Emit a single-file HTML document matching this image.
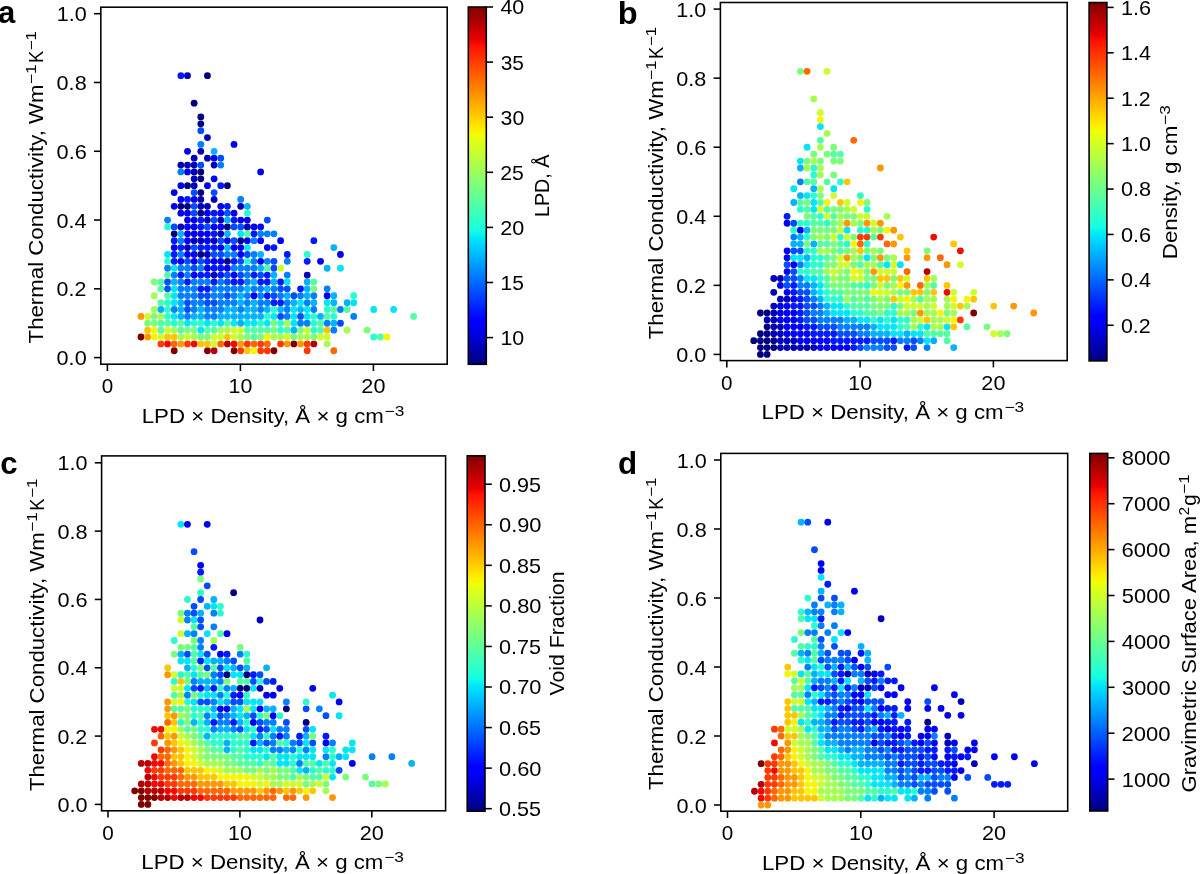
<!DOCTYPE html><html><head><meta charset="utf-8"><title>Thermal conductivity scatter plots</title><style>html,body{margin:0;padding:0;background:#fff;overflow:hidden;}svg{display:block;will-change:transform;}</style></head><body><svg width="1200" height="874" viewBox="0 0 1200 874">
<defs><linearGradient id="jet" x1="0" y1="1" x2="0" y2="0"><stop offset="0" stop-color="#000080"/><stop offset="0.11" stop-color="#0000ff"/><stop offset="0.125" stop-color="#0000ff"/><stop offset="0.34" stop-color="#00dbff"/><stop offset="0.35" stop-color="#00e5f7"/><stop offset="0.375" stop-color="#15ffe2"/><stop offset="0.64" stop-color="#efff08"/><stop offset="0.65" stop-color="#f7f600"/><stop offset="0.66" stop-color="#ffec00"/><stop offset="0.89" stop-color="#ff1300"/><stop offset="0.91" stop-color="#e80000"/><stop offset="1" stop-color="#800000"/></linearGradient></defs>
<rect width="1200" height="874" fill="#fff"/>
<g><circle cx="174.20" cy="350.77" r="3.4" fill="#800000"/><circle cx="207.45" cy="350.77" r="3.4" fill="#800000"/><circle cx="214.10" cy="350.77" r="3.4" fill="#b90000"/><circle cx="234.05" cy="350.77" r="3.4" fill="#800000"/><circle cx="240.70" cy="350.77" r="3.4" fill="#ff3900"/><circle cx="247.35" cy="350.77" r="3.4" fill="#ffc600"/><circle cx="254.00" cy="350.77" r="3.4" fill="#f7f600"/><circle cx="260.65" cy="350.77" r="3.4" fill="#ff3900"/><circle cx="267.30" cy="350.77" r="3.4" fill="#ff3900"/><circle cx="273.95" cy="350.77" r="3.4" fill="#800000"/><circle cx="307.20" cy="350.77" r="3.4" fill="#ff3900"/><circle cx="333.80" cy="350.77" r="3.4" fill="#ff6800"/><circle cx="160.90" cy="343.89" r="3.4" fill="#ff3900"/><circle cx="167.55" cy="343.89" r="3.4" fill="#f30900"/><circle cx="174.20" cy="343.89" r="3.4" fill="#ff6800"/><circle cx="180.85" cy="343.89" r="3.4" fill="#ff9700"/><circle cx="187.50" cy="343.89" r="3.4" fill="#ff3900"/><circle cx="194.15" cy="343.89" r="3.4" fill="#f30900"/><circle cx="200.80" cy="343.89" r="3.4" fill="#ffc600"/><circle cx="207.45" cy="343.89" r="3.4" fill="#ffc600"/><circle cx="214.10" cy="343.89" r="3.4" fill="#ceff29"/><circle cx="220.75" cy="343.89" r="3.4" fill="#ff6800"/><circle cx="227.40" cy="343.89" r="3.4" fill="#b90000"/><circle cx="234.05" cy="343.89" r="3.4" fill="#f30900"/><circle cx="240.70" cy="343.89" r="3.4" fill="#ff9700"/><circle cx="247.35" cy="343.89" r="3.4" fill="#ff3900"/><circle cx="254.00" cy="343.89" r="3.4" fill="#ff6800"/><circle cx="260.65" cy="343.89" r="3.4" fill="#ff3900"/><circle cx="267.30" cy="343.89" r="3.4" fill="#ff6800"/><circle cx="280.60" cy="343.89" r="3.4" fill="#ff3900"/><circle cx="287.25" cy="343.89" r="3.4" fill="#ff9700"/><circle cx="293.90" cy="343.89" r="3.4" fill="#800000"/><circle cx="300.55" cy="343.89" r="3.4" fill="#ff9700"/><circle cx="307.20" cy="343.89" r="3.4" fill="#ff3900"/><circle cx="313.85" cy="343.89" r="3.4" fill="#b90000"/><circle cx="327.15" cy="343.89" r="3.4" fill="#a5ff52"/><circle cx="140.95" cy="337.02" r="3.4" fill="#800000"/><circle cx="147.60" cy="337.02" r="3.4" fill="#ff9700"/><circle cx="154.25" cy="337.02" r="3.4" fill="#f7f600"/><circle cx="160.90" cy="337.02" r="3.4" fill="#ceff29"/><circle cx="167.55" cy="337.02" r="3.4" fill="#ffc600"/><circle cx="174.20" cy="337.02" r="3.4" fill="#ffc600"/><circle cx="180.85" cy="337.02" r="3.4" fill="#a5ff52"/><circle cx="187.50" cy="337.02" r="3.4" fill="#ceff29"/><circle cx="194.15" cy="337.02" r="3.4" fill="#a5ff52"/><circle cx="200.80" cy="337.02" r="3.4" fill="#7bff7b"/><circle cx="207.45" cy="337.02" r="3.4" fill="#7bff7b"/><circle cx="214.10" cy="337.02" r="3.4" fill="#ceff29"/><circle cx="220.75" cy="337.02" r="3.4" fill="#ceff29"/><circle cx="227.40" cy="337.02" r="3.4" fill="#ffc600"/><circle cx="234.05" cy="337.02" r="3.4" fill="#ceff29"/><circle cx="240.70" cy="337.02" r="3.4" fill="#a5ff52"/><circle cx="247.35" cy="337.02" r="3.4" fill="#7bff7b"/><circle cx="254.00" cy="337.02" r="3.4" fill="#52ffa5"/><circle cx="260.65" cy="337.02" r="3.4" fill="#7bff7b"/><circle cx="267.30" cy="337.02" r="3.4" fill="#f7f600"/><circle cx="273.95" cy="337.02" r="3.4" fill="#a5ff52"/><circle cx="280.60" cy="337.02" r="3.4" fill="#a5ff52"/><circle cx="287.25" cy="337.02" r="3.4" fill="#ceff29"/><circle cx="293.90" cy="337.02" r="3.4" fill="#7bff7b"/><circle cx="300.55" cy="337.02" r="3.4" fill="#a5ff52"/><circle cx="307.20" cy="337.02" r="3.4" fill="#a5ff52"/><circle cx="313.85" cy="337.02" r="3.4" fill="#7bff7b"/><circle cx="320.50" cy="337.02" r="3.4" fill="#ceff29"/><circle cx="327.15" cy="337.02" r="3.4" fill="#ceff29"/><circle cx="373.70" cy="337.02" r="3.4" fill="#29ffce"/><circle cx="380.35" cy="337.02" r="3.4" fill="#52ffa5"/><circle cx="387.00" cy="337.02" r="3.4" fill="#f7f600"/><circle cx="147.60" cy="330.14" r="3.4" fill="#ffc600"/><circle cx="154.25" cy="330.14" r="3.4" fill="#f7f600"/><circle cx="160.90" cy="330.14" r="3.4" fill="#52ffa5"/><circle cx="167.55" cy="330.14" r="3.4" fill="#ceff29"/><circle cx="174.20" cy="330.14" r="3.4" fill="#a5ff52"/><circle cx="180.85" cy="330.14" r="3.4" fill="#52ffa5"/><circle cx="187.50" cy="330.14" r="3.4" fill="#7bff7b"/><circle cx="194.15" cy="330.14" r="3.4" fill="#7bff7b"/><circle cx="200.80" cy="330.14" r="3.4" fill="#00e6f7"/><circle cx="207.45" cy="330.14" r="3.4" fill="#52ffa5"/><circle cx="214.10" cy="330.14" r="3.4" fill="#52ffa5"/><circle cx="220.75" cy="330.14" r="3.4" fill="#a5ff52"/><circle cx="227.40" cy="330.14" r="3.4" fill="#a5ff52"/><circle cx="234.05" cy="330.14" r="3.4" fill="#ceff29"/><circle cx="240.70" cy="330.14" r="3.4" fill="#ceff29"/><circle cx="247.35" cy="330.14" r="3.4" fill="#52ffa5"/><circle cx="254.00" cy="330.14" r="3.4" fill="#52ffa5"/><circle cx="260.65" cy="330.14" r="3.4" fill="#52ffa5"/><circle cx="267.30" cy="330.14" r="3.4" fill="#52ffa5"/><circle cx="273.95" cy="330.14" r="3.4" fill="#7bff7b"/><circle cx="280.60" cy="330.14" r="3.4" fill="#29ffce"/><circle cx="287.25" cy="330.14" r="3.4" fill="#52ffa5"/><circle cx="293.90" cy="330.14" r="3.4" fill="#00b3ff"/><circle cx="300.55" cy="330.14" r="3.4" fill="#7bff7b"/><circle cx="307.20" cy="330.14" r="3.4" fill="#ceff29"/><circle cx="313.85" cy="330.14" r="3.4" fill="#29ffce"/><circle cx="320.50" cy="330.14" r="3.4" fill="#52ffa5"/><circle cx="327.15" cy="330.14" r="3.4" fill="#ffc600"/><circle cx="333.80" cy="330.14" r="3.4" fill="#0080ff"/><circle cx="347.10" cy="330.14" r="3.4" fill="#a5ff52"/><circle cx="367.05" cy="330.14" r="3.4" fill="#7bff7b"/><circle cx="147.60" cy="323.26" r="3.4" fill="#7bff7b"/><circle cx="154.25" cy="323.26" r="3.4" fill="#7bff7b"/><circle cx="160.90" cy="323.26" r="3.4" fill="#52ffa5"/><circle cx="167.55" cy="323.26" r="3.4" fill="#52ffa5"/><circle cx="174.20" cy="323.26" r="3.4" fill="#29ffce"/><circle cx="180.85" cy="323.26" r="3.4" fill="#52ffa5"/><circle cx="187.50" cy="323.26" r="3.4" fill="#00e6f7"/><circle cx="194.15" cy="323.26" r="3.4" fill="#29ffce"/><circle cx="200.80" cy="323.26" r="3.4" fill="#29ffce"/><circle cx="207.45" cy="323.26" r="3.4" fill="#00e6f7"/><circle cx="214.10" cy="323.26" r="3.4" fill="#29ffce"/><circle cx="220.75" cy="323.26" r="3.4" fill="#00e6f7"/><circle cx="227.40" cy="323.26" r="3.4" fill="#52ffa5"/><circle cx="234.05" cy="323.26" r="3.4" fill="#00e6f7"/><circle cx="240.70" cy="323.26" r="3.4" fill="#00b3ff"/><circle cx="247.35" cy="323.26" r="3.4" fill="#00e6f7"/><circle cx="254.00" cy="323.26" r="3.4" fill="#00e6f7"/><circle cx="260.65" cy="323.26" r="3.4" fill="#29ffce"/><circle cx="267.30" cy="323.26" r="3.4" fill="#00e6f7"/><circle cx="273.95" cy="323.26" r="3.4" fill="#7bff7b"/><circle cx="280.60" cy="323.26" r="3.4" fill="#29ffce"/><circle cx="287.25" cy="323.26" r="3.4" fill="#a5ff52"/><circle cx="293.90" cy="323.26" r="3.4" fill="#00e6f7"/><circle cx="300.55" cy="323.26" r="3.4" fill="#0080ff"/><circle cx="307.20" cy="323.26" r="3.4" fill="#0080ff"/><circle cx="313.85" cy="323.26" r="3.4" fill="#29ffce"/><circle cx="320.50" cy="323.26" r="3.4" fill="#52ffa5"/><circle cx="327.15" cy="323.26" r="3.4" fill="#0080ff"/><circle cx="333.80" cy="323.26" r="3.4" fill="#00b3ff"/><circle cx="340.45" cy="323.26" r="3.4" fill="#004dff"/><circle cx="140.95" cy="316.38" r="3.4" fill="#ff9700"/><circle cx="147.60" cy="316.38" r="3.4" fill="#ceff29"/><circle cx="154.25" cy="316.38" r="3.4" fill="#7bff7b"/><circle cx="160.90" cy="316.38" r="3.4" fill="#a5ff52"/><circle cx="167.55" cy="316.38" r="3.4" fill="#29ffce"/><circle cx="174.20" cy="316.38" r="3.4" fill="#00e6f7"/><circle cx="180.85" cy="316.38" r="3.4" fill="#00b3ff"/><circle cx="187.50" cy="316.38" r="3.4" fill="#0080ff"/><circle cx="194.15" cy="316.38" r="3.4" fill="#00b3ff"/><circle cx="200.80" cy="316.38" r="3.4" fill="#00b3ff"/><circle cx="207.45" cy="316.38" r="3.4" fill="#0080ff"/><circle cx="214.10" cy="316.38" r="3.4" fill="#0080ff"/><circle cx="220.75" cy="316.38" r="3.4" fill="#00b3ff"/><circle cx="227.40" cy="316.38" r="3.4" fill="#00b3ff"/><circle cx="234.05" cy="316.38" r="3.4" fill="#00b3ff"/><circle cx="240.70" cy="316.38" r="3.4" fill="#00b3ff"/><circle cx="247.35" cy="316.38" r="3.4" fill="#00b3ff"/><circle cx="254.00" cy="316.38" r="3.4" fill="#00b3ff"/><circle cx="260.65" cy="316.38" r="3.4" fill="#00b3ff"/><circle cx="267.30" cy="316.38" r="3.4" fill="#29ffce"/><circle cx="273.95" cy="316.38" r="3.4" fill="#00e6f7"/><circle cx="280.60" cy="316.38" r="3.4" fill="#004dff"/><circle cx="287.25" cy="316.38" r="3.4" fill="#0080ff"/><circle cx="293.90" cy="316.38" r="3.4" fill="#00e6f7"/><circle cx="300.55" cy="316.38" r="3.4" fill="#004dff"/><circle cx="307.20" cy="316.38" r="3.4" fill="#00e6f7"/><circle cx="313.85" cy="316.38" r="3.4" fill="#29ffce"/><circle cx="320.50" cy="316.38" r="3.4" fill="#00b3ff"/><circle cx="327.15" cy="316.38" r="3.4" fill="#52ffa5"/><circle cx="333.80" cy="316.38" r="3.4" fill="#29ffce"/><circle cx="353.75" cy="316.38" r="3.4" fill="#0080ff"/><circle cx="413.60" cy="316.38" r="3.4" fill="#52ffa5"/><circle cx="154.25" cy="309.50" r="3.4" fill="#a5ff52"/><circle cx="160.90" cy="309.50" r="3.4" fill="#00b3ff"/><circle cx="167.55" cy="309.50" r="3.4" fill="#29ffce"/><circle cx="174.20" cy="309.50" r="3.4" fill="#0080ff"/><circle cx="180.85" cy="309.50" r="3.4" fill="#00b3ff"/><circle cx="187.50" cy="309.50" r="3.4" fill="#004dff"/><circle cx="194.15" cy="309.50" r="3.4" fill="#0080ff"/><circle cx="200.80" cy="309.50" r="3.4" fill="#00b3ff"/><circle cx="207.45" cy="309.50" r="3.4" fill="#0080ff"/><circle cx="214.10" cy="309.50" r="3.4" fill="#0080ff"/><circle cx="220.75" cy="309.50" r="3.4" fill="#0080ff"/><circle cx="227.40" cy="309.50" r="3.4" fill="#00b3ff"/><circle cx="234.05" cy="309.50" r="3.4" fill="#00b3ff"/><circle cx="240.70" cy="309.50" r="3.4" fill="#0080ff"/><circle cx="247.35" cy="309.50" r="3.4" fill="#00b3ff"/><circle cx="254.00" cy="309.50" r="3.4" fill="#00b3ff"/><circle cx="260.65" cy="309.50" r="3.4" fill="#0080ff"/><circle cx="267.30" cy="309.50" r="3.4" fill="#00b3ff"/><circle cx="273.95" cy="309.50" r="3.4" fill="#29ffce"/><circle cx="280.60" cy="309.50" r="3.4" fill="#00b3ff"/><circle cx="287.25" cy="309.50" r="3.4" fill="#0080ff"/><circle cx="293.90" cy="309.50" r="3.4" fill="#00e6f7"/><circle cx="300.55" cy="309.50" r="3.4" fill="#00b3ff"/><circle cx="307.20" cy="309.50" r="3.4" fill="#00e6f7"/><circle cx="313.85" cy="309.50" r="3.4" fill="#0080ff"/><circle cx="327.15" cy="309.50" r="3.4" fill="#29ffce"/><circle cx="333.80" cy="309.50" r="3.4" fill="#52ffa5"/><circle cx="340.45" cy="309.50" r="3.4" fill="#0080ff"/><circle cx="347.10" cy="309.50" r="3.4" fill="#52ffa5"/><circle cx="373.70" cy="309.50" r="3.4" fill="#00e6f7"/><circle cx="393.65" cy="309.50" r="3.4" fill="#00e6f7"/><circle cx="160.90" cy="302.63" r="3.4" fill="#52ffa5"/><circle cx="167.55" cy="302.63" r="3.4" fill="#29ffce"/><circle cx="174.20" cy="302.63" r="3.4" fill="#00e6f7"/><circle cx="180.85" cy="302.63" r="3.4" fill="#00b3ff"/><circle cx="187.50" cy="302.63" r="3.4" fill="#004dff"/><circle cx="194.15" cy="302.63" r="3.4" fill="#0080ff"/><circle cx="200.80" cy="302.63" r="3.4" fill="#0080ff"/><circle cx="207.45" cy="302.63" r="3.4" fill="#004dff"/><circle cx="214.10" cy="302.63" r="3.4" fill="#004dff"/><circle cx="220.75" cy="302.63" r="3.4" fill="#0080ff"/><circle cx="227.40" cy="302.63" r="3.4" fill="#0080ff"/><circle cx="234.05" cy="302.63" r="3.4" fill="#0080ff"/><circle cx="240.70" cy="302.63" r="3.4" fill="#00b3ff"/><circle cx="247.35" cy="302.63" r="3.4" fill="#0080ff"/><circle cx="254.00" cy="302.63" r="3.4" fill="#00b3ff"/><circle cx="260.65" cy="302.63" r="3.4" fill="#0080ff"/><circle cx="267.30" cy="302.63" r="3.4" fill="#0080ff"/><circle cx="273.95" cy="302.63" r="3.4" fill="#001aff"/><circle cx="280.60" cy="302.63" r="3.4" fill="#001aff"/><circle cx="287.25" cy="302.63" r="3.4" fill="#0080ff"/><circle cx="293.90" cy="302.63" r="3.4" fill="#00b3ff"/><circle cx="300.55" cy="302.63" r="3.4" fill="#00e6f7"/><circle cx="307.20" cy="302.63" r="3.4" fill="#0080ff"/><circle cx="313.85" cy="302.63" r="3.4" fill="#00b3ff"/><circle cx="327.15" cy="302.63" r="3.4" fill="#00e6f7"/><circle cx="333.80" cy="302.63" r="3.4" fill="#00b3ff"/><circle cx="347.10" cy="302.63" r="3.4" fill="#00b3ff"/><circle cx="353.75" cy="302.63" r="3.4" fill="#00e6f7"/><circle cx="154.25" cy="295.75" r="3.4" fill="#a5ff52"/><circle cx="167.55" cy="295.75" r="3.4" fill="#52ffa5"/><circle cx="174.20" cy="295.75" r="3.4" fill="#00e6f7"/><circle cx="180.85" cy="295.75" r="3.4" fill="#0080ff"/><circle cx="187.50" cy="295.75" r="3.4" fill="#0080ff"/><circle cx="194.15" cy="295.75" r="3.4" fill="#0080ff"/><circle cx="200.80" cy="295.75" r="3.4" fill="#004dff"/><circle cx="207.45" cy="295.75" r="3.4" fill="#004dff"/><circle cx="214.10" cy="295.75" r="3.4" fill="#0080ff"/><circle cx="220.75" cy="295.75" r="3.4" fill="#0080ff"/><circle cx="227.40" cy="295.75" r="3.4" fill="#004dff"/><circle cx="234.05" cy="295.75" r="3.4" fill="#0080ff"/><circle cx="240.70" cy="295.75" r="3.4" fill="#00b3ff"/><circle cx="247.35" cy="295.75" r="3.4" fill="#0080ff"/><circle cx="254.00" cy="295.75" r="3.4" fill="#0000f3"/><circle cx="260.65" cy="295.75" r="3.4" fill="#0080ff"/><circle cx="267.30" cy="295.75" r="3.4" fill="#001aff"/><circle cx="273.95" cy="295.75" r="3.4" fill="#004dff"/><circle cx="280.60" cy="295.75" r="3.4" fill="#0080ff"/><circle cx="287.25" cy="295.75" r="3.4" fill="#00b3ff"/><circle cx="293.90" cy="295.75" r="3.4" fill="#004dff"/><circle cx="300.55" cy="295.75" r="3.4" fill="#0080ff"/><circle cx="307.20" cy="295.75" r="3.4" fill="#00b3ff"/><circle cx="313.85" cy="295.75" r="3.4" fill="#0080ff"/><circle cx="327.15" cy="295.75" r="3.4" fill="#0000f3"/><circle cx="333.80" cy="295.75" r="3.4" fill="#00b3ff"/><circle cx="353.75" cy="295.75" r="3.4" fill="#29ffce"/><circle cx="160.90" cy="288.87" r="3.4" fill="#52ffa5"/><circle cx="167.55" cy="288.87" r="3.4" fill="#004dff"/><circle cx="174.20" cy="288.87" r="3.4" fill="#00e6f7"/><circle cx="180.85" cy="288.87" r="3.4" fill="#0080ff"/><circle cx="187.50" cy="288.87" r="3.4" fill="#0080ff"/><circle cx="194.15" cy="288.87" r="3.4" fill="#0080ff"/><circle cx="200.80" cy="288.87" r="3.4" fill="#001aff"/><circle cx="207.45" cy="288.87" r="3.4" fill="#001aff"/><circle cx="214.10" cy="288.87" r="3.4" fill="#0080ff"/><circle cx="220.75" cy="288.87" r="3.4" fill="#0080ff"/><circle cx="227.40" cy="288.87" r="3.4" fill="#0080ff"/><circle cx="234.05" cy="288.87" r="3.4" fill="#0080ff"/><circle cx="240.70" cy="288.87" r="3.4" fill="#0080ff"/><circle cx="247.35" cy="288.87" r="3.4" fill="#00b3ff"/><circle cx="254.00" cy="288.87" r="3.4" fill="#0080ff"/><circle cx="260.65" cy="288.87" r="3.4" fill="#0080ff"/><circle cx="267.30" cy="288.87" r="3.4" fill="#00b3ff"/><circle cx="273.95" cy="288.87" r="3.4" fill="#0080ff"/><circle cx="280.60" cy="288.87" r="3.4" fill="#004dff"/><circle cx="287.25" cy="288.87" r="3.4" fill="#004dff"/><circle cx="300.55" cy="288.87" r="3.4" fill="#001aff"/><circle cx="307.20" cy="288.87" r="3.4" fill="#00b3ff"/><circle cx="313.85" cy="288.87" r="3.4" fill="#7bff7b"/><circle cx="327.15" cy="288.87" r="3.4" fill="#0080ff"/><circle cx="154.25" cy="281.99" r="3.4" fill="#7bff7b"/><circle cx="160.90" cy="281.99" r="3.4" fill="#52ffa5"/><circle cx="167.55" cy="281.99" r="3.4" fill="#004dff"/><circle cx="174.20" cy="281.99" r="3.4" fill="#00b3ff"/><circle cx="180.85" cy="281.99" r="3.4" fill="#0080ff"/><circle cx="187.50" cy="281.99" r="3.4" fill="#001aff"/><circle cx="194.15" cy="281.99" r="3.4" fill="#0080ff"/><circle cx="200.80" cy="281.99" r="3.4" fill="#0080ff"/><circle cx="207.45" cy="281.99" r="3.4" fill="#0080ff"/><circle cx="214.10" cy="281.99" r="3.4" fill="#001aff"/><circle cx="220.75" cy="281.99" r="3.4" fill="#0080ff"/><circle cx="227.40" cy="281.99" r="3.4" fill="#004dff"/><circle cx="234.05" cy="281.99" r="3.4" fill="#001aff"/><circle cx="240.70" cy="281.99" r="3.4" fill="#001aff"/><circle cx="247.35" cy="281.99" r="3.4" fill="#0080ff"/><circle cx="254.00" cy="281.99" r="3.4" fill="#00b3ff"/><circle cx="260.65" cy="281.99" r="3.4" fill="#001aff"/><circle cx="267.30" cy="281.99" r="3.4" fill="#001aff"/><circle cx="273.95" cy="281.99" r="3.4" fill="#00b3ff"/><circle cx="280.60" cy="281.99" r="3.4" fill="#001aff"/><circle cx="287.25" cy="281.99" r="3.4" fill="#00e6f7"/><circle cx="307.20" cy="281.99" r="3.4" fill="#00b3ff"/><circle cx="313.85" cy="281.99" r="3.4" fill="#52ffa5"/><circle cx="167.55" cy="275.11" r="3.4" fill="#52ffa5"/><circle cx="174.20" cy="275.11" r="3.4" fill="#0080ff"/><circle cx="180.85" cy="275.11" r="3.4" fill="#001aff"/><circle cx="187.50" cy="275.11" r="3.4" fill="#0080ff"/><circle cx="194.15" cy="275.11" r="3.4" fill="#0000f3"/><circle cx="200.80" cy="275.11" r="3.4" fill="#001aff"/><circle cx="207.45" cy="275.11" r="3.4" fill="#001aff"/><circle cx="214.10" cy="275.11" r="3.4" fill="#0000b9"/><circle cx="220.75" cy="275.11" r="3.4" fill="#001aff"/><circle cx="227.40" cy="275.11" r="3.4" fill="#004dff"/><circle cx="234.05" cy="275.11" r="3.4" fill="#0000f3"/><circle cx="240.70" cy="275.11" r="3.4" fill="#004dff"/><circle cx="247.35" cy="275.11" r="3.4" fill="#0080ff"/><circle cx="254.00" cy="275.11" r="3.4" fill="#001aff"/><circle cx="260.65" cy="275.11" r="3.4" fill="#004dff"/><circle cx="267.30" cy="275.11" r="3.4" fill="#001aff"/><circle cx="273.95" cy="275.11" r="3.4" fill="#00b3ff"/><circle cx="287.25" cy="275.11" r="3.4" fill="#0080ff"/><circle cx="307.20" cy="275.11" r="3.4" fill="#0000b9"/><circle cx="167.55" cy="268.24" r="3.4" fill="#0080ff"/><circle cx="174.20" cy="268.24" r="3.4" fill="#00e6f7"/><circle cx="180.85" cy="268.24" r="3.4" fill="#0080ff"/><circle cx="187.50" cy="268.24" r="3.4" fill="#0080ff"/><circle cx="194.15" cy="268.24" r="3.4" fill="#004dff"/><circle cx="200.80" cy="268.24" r="3.4" fill="#0080ff"/><circle cx="207.45" cy="268.24" r="3.4" fill="#0000f3"/><circle cx="214.10" cy="268.24" r="3.4" fill="#001aff"/><circle cx="220.75" cy="268.24" r="3.4" fill="#001aff"/><circle cx="227.40" cy="268.24" r="3.4" fill="#0000f3"/><circle cx="234.05" cy="268.24" r="3.4" fill="#0080ff"/><circle cx="240.70" cy="268.24" r="3.4" fill="#0080ff"/><circle cx="247.35" cy="268.24" r="3.4" fill="#0080ff"/><circle cx="254.00" cy="268.24" r="3.4" fill="#0080ff"/><circle cx="260.65" cy="268.24" r="3.4" fill="#00b3ff"/><circle cx="267.30" cy="268.24" r="3.4" fill="#52ffa5"/><circle cx="273.95" cy="268.24" r="3.4" fill="#004dff"/><circle cx="280.60" cy="268.24" r="3.4" fill="#ceff29"/><circle cx="327.15" cy="268.24" r="3.4" fill="#00b3ff"/><circle cx="340.45" cy="268.24" r="3.4" fill="#00e6f7"/><circle cx="167.55" cy="261.36" r="3.4" fill="#29ffce"/><circle cx="174.20" cy="261.36" r="3.4" fill="#001aff"/><circle cx="180.85" cy="261.36" r="3.4" fill="#0000f3"/><circle cx="187.50" cy="261.36" r="3.4" fill="#004dff"/><circle cx="194.15" cy="261.36" r="3.4" fill="#0000f3"/><circle cx="200.80" cy="261.36" r="3.4" fill="#004dff"/><circle cx="207.45" cy="261.36" r="3.4" fill="#001aff"/><circle cx="214.10" cy="261.36" r="3.4" fill="#0000f3"/><circle cx="220.75" cy="261.36" r="3.4" fill="#0000f3"/><circle cx="227.40" cy="261.36" r="3.4" fill="#000080"/><circle cx="234.05" cy="261.36" r="3.4" fill="#001aff"/><circle cx="240.70" cy="261.36" r="3.4" fill="#004dff"/><circle cx="247.35" cy="261.36" r="3.4" fill="#29ffce"/><circle cx="254.00" cy="261.36" r="3.4" fill="#0080ff"/><circle cx="260.65" cy="261.36" r="3.4" fill="#0000f3"/><circle cx="267.30" cy="261.36" r="3.4" fill="#0080ff"/><circle cx="273.95" cy="261.36" r="3.4" fill="#004dff"/><circle cx="287.25" cy="261.36" r="3.4" fill="#0080ff"/><circle cx="307.20" cy="261.36" r="3.4" fill="#001aff"/><circle cx="320.50" cy="261.36" r="3.4" fill="#0000f3"/><circle cx="167.55" cy="254.48" r="3.4" fill="#00e6f7"/><circle cx="174.20" cy="254.48" r="3.4" fill="#001aff"/><circle cx="180.85" cy="254.48" r="3.4" fill="#0080ff"/><circle cx="187.50" cy="254.48" r="3.4" fill="#0000f3"/><circle cx="194.15" cy="254.48" r="3.4" fill="#0000f3"/><circle cx="200.80" cy="254.48" r="3.4" fill="#000080"/><circle cx="207.45" cy="254.48" r="3.4" fill="#0000b9"/><circle cx="214.10" cy="254.48" r="3.4" fill="#004dff"/><circle cx="220.75" cy="254.48" r="3.4" fill="#004dff"/><circle cx="227.40" cy="254.48" r="3.4" fill="#0080ff"/><circle cx="234.05" cy="254.48" r="3.4" fill="#0080ff"/><circle cx="240.70" cy="254.48" r="3.4" fill="#0000f3"/><circle cx="247.35" cy="254.48" r="3.4" fill="#004dff"/><circle cx="254.00" cy="254.48" r="3.4" fill="#0080ff"/><circle cx="260.65" cy="254.48" r="3.4" fill="#00b3ff"/><circle cx="287.25" cy="254.48" r="3.4" fill="#001aff"/><circle cx="307.20" cy="254.48" r="3.4" fill="#29ffce"/><circle cx="340.45" cy="254.48" r="3.4" fill="#0000f3"/><circle cx="174.20" cy="247.60" r="3.4" fill="#0000f3"/><circle cx="180.85" cy="247.60" r="3.4" fill="#001aff"/><circle cx="187.50" cy="247.60" r="3.4" fill="#0000b9"/><circle cx="194.15" cy="247.60" r="3.4" fill="#004dff"/><circle cx="200.80" cy="247.60" r="3.4" fill="#001aff"/><circle cx="207.45" cy="247.60" r="3.4" fill="#001aff"/><circle cx="214.10" cy="247.60" r="3.4" fill="#001aff"/><circle cx="220.75" cy="247.60" r="3.4" fill="#0000f3"/><circle cx="227.40" cy="247.60" r="3.4" fill="#00b3ff"/><circle cx="234.05" cy="247.60" r="3.4" fill="#0000f3"/><circle cx="240.70" cy="247.60" r="3.4" fill="#0000f3"/><circle cx="247.35" cy="247.60" r="3.4" fill="#00e6f7"/><circle cx="267.30" cy="247.60" r="3.4" fill="#0000f3"/><circle cx="273.95" cy="247.60" r="3.4" fill="#001aff"/><circle cx="333.80" cy="247.60" r="3.4" fill="#00b3ff"/><circle cx="174.20" cy="240.72" r="3.4" fill="#001aff"/><circle cx="180.85" cy="240.72" r="3.4" fill="#0080ff"/><circle cx="187.50" cy="240.72" r="3.4" fill="#0000f3"/><circle cx="194.15" cy="240.72" r="3.4" fill="#0000b9"/><circle cx="200.80" cy="240.72" r="3.4" fill="#0000b9"/><circle cx="207.45" cy="240.72" r="3.4" fill="#0000f3"/><circle cx="214.10" cy="240.72" r="3.4" fill="#0000b9"/><circle cx="220.75" cy="240.72" r="3.4" fill="#004dff"/><circle cx="227.40" cy="240.72" r="3.4" fill="#0000f3"/><circle cx="234.05" cy="240.72" r="3.4" fill="#004dff"/><circle cx="240.70" cy="240.72" r="3.4" fill="#000080"/><circle cx="247.35" cy="240.72" r="3.4" fill="#0000f3"/><circle cx="254.00" cy="240.72" r="3.4" fill="#0080ff"/><circle cx="260.65" cy="240.72" r="3.4" fill="#0000f3"/><circle cx="280.60" cy="240.72" r="3.4" fill="#0000f3"/><circle cx="313.85" cy="240.72" r="3.4" fill="#001aff"/><circle cx="174.20" cy="233.85" r="3.4" fill="#000080"/><circle cx="180.85" cy="233.85" r="3.4" fill="#00b3ff"/><circle cx="187.50" cy="233.85" r="3.4" fill="#0000f3"/><circle cx="194.15" cy="233.85" r="3.4" fill="#0000f3"/><circle cx="200.80" cy="233.85" r="3.4" fill="#0000f3"/><circle cx="207.45" cy="233.85" r="3.4" fill="#0000f3"/><circle cx="214.10" cy="233.85" r="3.4" fill="#001aff"/><circle cx="220.75" cy="233.85" r="3.4" fill="#0000b9"/><circle cx="227.40" cy="233.85" r="3.4" fill="#00b3ff"/><circle cx="240.70" cy="233.85" r="3.4" fill="#00e6f7"/><circle cx="247.35" cy="233.85" r="3.4" fill="#52ffa5"/><circle cx="254.00" cy="233.85" r="3.4" fill="#001aff"/><circle cx="260.65" cy="233.85" r="3.4" fill="#0080ff"/><circle cx="267.30" cy="233.85" r="3.4" fill="#0080ff"/><circle cx="273.95" cy="233.85" r="3.4" fill="#0080ff"/><circle cx="167.55" cy="226.97" r="3.4" fill="#29ffce"/><circle cx="174.20" cy="226.97" r="3.4" fill="#004dff"/><circle cx="180.85" cy="226.97" r="3.4" fill="#0000b9"/><circle cx="187.50" cy="226.97" r="3.4" fill="#0000f3"/><circle cx="194.15" cy="226.97" r="3.4" fill="#0000f3"/><circle cx="200.80" cy="226.97" r="3.4" fill="#001aff"/><circle cx="207.45" cy="226.97" r="3.4" fill="#004dff"/><circle cx="214.10" cy="226.97" r="3.4" fill="#0000f3"/><circle cx="220.75" cy="226.97" r="3.4" fill="#0000f3"/><circle cx="227.40" cy="226.97" r="3.4" fill="#000080"/><circle cx="234.05" cy="226.97" r="3.4" fill="#004dff"/><circle cx="240.70" cy="226.97" r="3.4" fill="#004dff"/><circle cx="247.35" cy="226.97" r="3.4" fill="#0000b9"/><circle cx="254.00" cy="226.97" r="3.4" fill="#0000f3"/><circle cx="260.65" cy="226.97" r="3.4" fill="#0000f3"/><circle cx="167.55" cy="220.09" r="3.4" fill="#0080ff"/><circle cx="187.50" cy="220.09" r="3.4" fill="#0000f3"/><circle cx="194.15" cy="220.09" r="3.4" fill="#0000f3"/><circle cx="200.80" cy="220.09" r="3.4" fill="#001aff"/><circle cx="207.45" cy="220.09" r="3.4" fill="#0000b9"/><circle cx="214.10" cy="220.09" r="3.4" fill="#004dff"/><circle cx="220.75" cy="220.09" r="3.4" fill="#0000b9"/><circle cx="227.40" cy="220.09" r="3.4" fill="#00b3ff"/><circle cx="234.05" cy="220.09" r="3.4" fill="#001aff"/><circle cx="240.70" cy="220.09" r="3.4" fill="#0000f3"/><circle cx="247.35" cy="220.09" r="3.4" fill="#0000f3"/><circle cx="267.30" cy="220.09" r="3.4" fill="#004dff"/><circle cx="180.85" cy="213.21" r="3.4" fill="#0000f3"/><circle cx="187.50" cy="213.21" r="3.4" fill="#0000f3"/><circle cx="194.15" cy="213.21" r="3.4" fill="#004dff"/><circle cx="200.80" cy="213.21" r="3.4" fill="#000080"/><circle cx="207.45" cy="213.21" r="3.4" fill="#0000f3"/><circle cx="214.10" cy="213.21" r="3.4" fill="#001aff"/><circle cx="220.75" cy="213.21" r="3.4" fill="#0000f3"/><circle cx="227.40" cy="213.21" r="3.4" fill="#004dff"/><circle cx="234.05" cy="213.21" r="3.4" fill="#0000f3"/><circle cx="247.35" cy="213.21" r="3.4" fill="#29ffce"/><circle cx="174.20" cy="206.33" r="3.4" fill="#0000f3"/><circle cx="180.85" cy="206.33" r="3.4" fill="#000080"/><circle cx="187.50" cy="206.33" r="3.4" fill="#000080"/><circle cx="194.15" cy="206.33" r="3.4" fill="#004dff"/><circle cx="200.80" cy="206.33" r="3.4" fill="#0000b9"/><circle cx="207.45" cy="206.33" r="3.4" fill="#0000b9"/><circle cx="220.75" cy="206.33" r="3.4" fill="#0000f3"/><circle cx="227.40" cy="206.33" r="3.4" fill="#001aff"/><circle cx="240.70" cy="206.33" r="3.4" fill="#0000b9"/><circle cx="247.35" cy="206.33" r="3.4" fill="#00b3ff"/><circle cx="180.85" cy="199.46" r="3.4" fill="#0000f3"/><circle cx="187.50" cy="199.46" r="3.4" fill="#001aff"/><circle cx="194.15" cy="199.46" r="3.4" fill="#0000f3"/><circle cx="200.80" cy="199.46" r="3.4" fill="#0000b9"/><circle cx="214.10" cy="199.46" r="3.4" fill="#0000b9"/><circle cx="240.70" cy="199.46" r="3.4" fill="#0080ff"/><circle cx="174.20" cy="192.58" r="3.4" fill="#0000f3"/><circle cx="194.15" cy="192.58" r="3.4" fill="#004dff"/><circle cx="200.80" cy="192.58" r="3.4" fill="#000080"/><circle cx="214.10" cy="192.58" r="3.4" fill="#004dff"/><circle cx="180.85" cy="185.70" r="3.4" fill="#0000f3"/><circle cx="187.50" cy="185.70" r="3.4" fill="#000080"/><circle cx="194.15" cy="185.70" r="3.4" fill="#0000b9"/><circle cx="207.45" cy="185.70" r="3.4" fill="#0000f3"/><circle cx="220.75" cy="185.70" r="3.4" fill="#001aff"/><circle cx="227.40" cy="185.70" r="3.4" fill="#000080"/><circle cx="194.15" cy="178.82" r="3.4" fill="#0000b9"/><circle cx="200.80" cy="178.82" r="3.4" fill="#000080"/><circle cx="214.10" cy="178.82" r="3.4" fill="#0000f3"/><circle cx="180.85" cy="171.94" r="3.4" fill="#0080ff"/><circle cx="187.50" cy="171.94" r="3.4" fill="#0000f3"/><circle cx="194.15" cy="171.94" r="3.4" fill="#0000b9"/><circle cx="200.80" cy="171.94" r="3.4" fill="#000080"/><circle cx="260.65" cy="171.94" r="3.4" fill="#0000f3"/><circle cx="180.85" cy="165.07" r="3.4" fill="#0000b9"/><circle cx="187.50" cy="165.07" r="3.4" fill="#0000b9"/><circle cx="194.15" cy="165.07" r="3.4" fill="#0000b9"/><circle cx="200.80" cy="165.07" r="3.4" fill="#004dff"/><circle cx="214.10" cy="165.07" r="3.4" fill="#0000b9"/><circle cx="220.75" cy="165.07" r="3.4" fill="#0080ff"/><circle cx="194.15" cy="158.19" r="3.4" fill="#0000b9"/><circle cx="207.45" cy="158.19" r="3.4" fill="#0000b9"/><circle cx="214.10" cy="158.19" r="3.4" fill="#0000f3"/><circle cx="220.75" cy="158.19" r="3.4" fill="#004dff"/><circle cx="187.50" cy="151.31" r="3.4" fill="#0000f3"/><circle cx="200.80" cy="151.31" r="3.4" fill="#0000b9"/><circle cx="214.10" cy="151.31" r="3.4" fill="#00b3ff"/><circle cx="200.80" cy="144.43" r="3.4" fill="#0080ff"/><circle cx="234.05" cy="144.43" r="3.4" fill="#0000f3"/><circle cx="207.45" cy="137.55" r="3.4" fill="#0000b9"/><circle cx="200.80" cy="130.68" r="3.4" fill="#004dff"/><circle cx="200.80" cy="123.80" r="3.4" fill="#000080"/><circle cx="200.80" cy="116.92" r="3.4" fill="#000080"/><circle cx="194.15" cy="103.16" r="3.4" fill="#000080"/><circle cx="180.85" cy="75.65" r="3.4" fill="#001aff"/><circle cx="187.50" cy="75.65" r="3.4" fill="#0000b9"/><circle cx="207.45" cy="75.65" r="3.4" fill="#000080"/></g>
<rect x="100.80" y="7.20" width="346.40" height="357.00" fill="none" stroke="#000" stroke-width="1.56"/>
<line x1="107.40" y1="364.20" x2="107.40" y2="371.00" stroke="#000" stroke-width="1.56"/>
<text x="-0.750" y="0" transform="translate(102.47 393.20) scale(1.0128 1)" font-family="Liberation Sans, sans-serif" font-size="20.4">0</text>
<line x1="240.40" y1="364.20" x2="240.40" y2="371.00" stroke="#000" stroke-width="1.56"/>
<text x="-1.500" y="0" transform="translate(230.16 393.20) scale(1.0491 1)" font-family="Liberation Sans, sans-serif" font-size="20.4">10</text>
<line x1="373.40" y1="364.20" x2="373.40" y2="371.00" stroke="#000" stroke-width="1.56"/>
<text x="-1.000" y="0" transform="translate(362.41 393.20) scale(1.0599 1)" font-family="Liberation Sans, sans-serif" font-size="20.4">20</text>
<line x1="94.00" y1="357.60" x2="100.80" y2="357.60" stroke="#000" stroke-width="1.56"/>
<text x="-0.750" y="0" transform="translate(57.38 365.10) scale(1.0607 1)" font-family="Liberation Sans, sans-serif" font-size="20.4">0.0</text>
<line x1="94.00" y1="288.82" x2="100.80" y2="288.82" stroke="#000" stroke-width="1.56"/>
<text x="-0.750" y="0" transform="translate(57.38 296.32) scale(1.0472 1)" font-family="Liberation Sans, sans-serif" font-size="20.4">0.2</text>
<line x1="94.00" y1="220.04" x2="100.80" y2="220.04" stroke="#000" stroke-width="1.56"/>
<text x="-0.750" y="0" transform="translate(57.38 227.54) scale(1.0602 1)" font-family="Liberation Sans, sans-serif" font-size="20.4">0.4</text>
<line x1="94.00" y1="151.26" x2="100.80" y2="151.26" stroke="#000" stroke-width="1.56"/>
<text x="-0.750" y="0" transform="translate(57.38 158.76) scale(1.0657 1)" font-family="Liberation Sans, sans-serif" font-size="20.4">0.6</text>
<line x1="94.00" y1="82.48" x2="100.80" y2="82.48" stroke="#000" stroke-width="1.56"/>
<text x="-0.750" y="0" transform="translate(57.38 89.98) scale(1.0607 1)" font-family="Liberation Sans, sans-serif" font-size="20.4">0.8</text>
<line x1="94.00" y1="13.70" x2="100.80" y2="13.70" stroke="#000" stroke-width="1.56"/>
<text x="-1.500" y="0" transform="translate(58.25 21.20) scale(1.0577 1)" font-family="Liberation Sans, sans-serif" font-size="20.4">1.0</text>
<text x="-1.625" y="0" transform="translate(143.50 422.50) scale(1.0919 1)" font-family="Liberation Sans, sans-serif" font-size="20.4">LPD × Density, Å × g cm</text>
<text x="-0.750" y="0" transform="translate(385.50 415.50) scale(1.2101 1)" font-family="Liberation Sans, sans-serif" font-size="14.3">−3</text>
<text x="-0.500" y="0" transform="translate(42.90 342.90) rotate(-90) scale(1.0901 1)" font-family="Liberation Sans, sans-serif" font-size="20.4">Thermal Conductivity, Wm</text>
<text x="-0.750" y="0" transform="translate(36.00 83.20) rotate(-90) scale(1.2034 1)" font-family="Liberation Sans, sans-serif" font-size="14.3">−1</text>
<text x="-1.625" y="0" transform="translate(42.90 61.60) rotate(-90) scale(0.9032 1)" font-family="Liberation Sans, sans-serif" font-size="20.4">K</text>
<text x="-0.750" y="0" transform="translate(36.00 49.30) rotate(-90) scale(1.1697 1)" font-family="Liberation Sans, sans-serif" font-size="14.3">−1</text>
<rect x="468.30" y="7.00" width="18.00" height="357.30" fill="url(#jet)" stroke="#000" stroke-width="1.56"/>
<line x1="486.30" y1="337.60" x2="493.10" y2="337.60" stroke="#000" stroke-width="1.56"/>
<text x="-1.500" y="0" transform="translate(502.03 345.00) scale(1.0491 1)" font-family="Liberation Sans, sans-serif" font-size="20.4">10</text>
<line x1="486.30" y1="282.50" x2="493.10" y2="282.50" stroke="#000" stroke-width="1.56"/>
<text x="-1.500" y="0" transform="translate(502.03 289.90) scale(1.0307 1)" font-family="Liberation Sans, sans-serif" font-size="20.4">15</text>
<line x1="486.30" y1="227.40" x2="493.10" y2="227.40" stroke="#000" stroke-width="1.56"/>
<text x="-1.000" y="0" transform="translate(501.28 234.80) scale(1.0599 1)" font-family="Liberation Sans, sans-serif" font-size="20.4">20</text>
<line x1="486.30" y1="172.30" x2="493.10" y2="172.30" stroke="#000" stroke-width="1.56"/>
<text x="-1.000" y="0" transform="translate(501.28 179.70) scale(1.0419 1)" font-family="Liberation Sans, sans-serif" font-size="20.4">25</text>
<line x1="486.30" y1="117.20" x2="493.10" y2="117.20" stroke="#000" stroke-width="1.56"/>
<text x="-0.750" y="0" transform="translate(501.40 124.60) scale(1.0414 1)" font-family="Liberation Sans, sans-serif" font-size="20.4">30</text>
<line x1="486.30" y1="62.10" x2="493.10" y2="62.10" stroke="#000" stroke-width="1.56"/>
<text x="-0.750" y="0" transform="translate(501.40 69.50) scale(1.0237 1)" font-family="Liberation Sans, sans-serif" font-size="20.4">35</text>
<line x1="486.30" y1="7.00" x2="493.10" y2="7.00" stroke="#000" stroke-width="1.56"/>
<text x="-0.500" y="0" transform="translate(500.90 14.40) scale(1.0526 1)" font-family="Liberation Sans, sans-serif" font-size="20.4">40</text>
<text x="-0.875" y="0" transform="translate(-1.20 23.30) scale(1.0015 1)" font-family="Liberation Sans, sans-serif" font-size="31" font-weight="bold">a</text>
<g><circle cx="760.42" cy="354.45" r="3.4" fill="#000080"/><circle cx="767.09" cy="354.45" r="3.4" fill="#000080"/><circle cx="760.42" cy="347.54" r="3.4" fill="#000080"/><circle cx="767.09" cy="347.54" r="3.4" fill="#000080"/><circle cx="773.75" cy="347.54" r="3.4" fill="#000080"/><circle cx="780.42" cy="347.54" r="3.4" fill="#0000b9"/><circle cx="787.08" cy="347.54" r="3.4" fill="#0000b9"/><circle cx="793.75" cy="347.54" r="3.4" fill="#0000b9"/><circle cx="800.41" cy="347.54" r="3.4" fill="#0000b9"/><circle cx="807.08" cy="347.54" r="3.4" fill="#0000b9"/><circle cx="813.74" cy="347.54" r="3.4" fill="#0000b9"/><circle cx="820.41" cy="347.54" r="3.4" fill="#0000f3"/><circle cx="827.07" cy="347.54" r="3.4" fill="#0000f3"/><circle cx="833.74" cy="347.54" r="3.4" fill="#0000f3"/><circle cx="840.40" cy="347.54" r="3.4" fill="#0000f3"/><circle cx="847.07" cy="347.54" r="3.4" fill="#0000f3"/><circle cx="853.73" cy="347.54" r="3.4" fill="#001aff"/><circle cx="860.40" cy="347.54" r="3.4" fill="#004dff"/><circle cx="867.06" cy="347.54" r="3.4" fill="#0080ff"/><circle cx="873.73" cy="347.54" r="3.4" fill="#0080ff"/><circle cx="880.39" cy="347.54" r="3.4" fill="#0080ff"/><circle cx="887.06" cy="347.54" r="3.4" fill="#004dff"/><circle cx="893.72" cy="347.54" r="3.4" fill="#004dff"/><circle cx="907.05" cy="347.54" r="3.4" fill="#001aff"/><circle cx="913.72" cy="347.54" r="3.4" fill="#004dff"/><circle cx="927.05" cy="347.54" r="3.4" fill="#0080ff"/><circle cx="953.71" cy="347.54" r="3.4" fill="#00b3ff"/><circle cx="753.76" cy="340.64" r="3.4" fill="#000080"/><circle cx="760.42" cy="340.64" r="3.4" fill="#000080"/><circle cx="767.09" cy="340.64" r="3.4" fill="#000080"/><circle cx="773.75" cy="340.64" r="3.4" fill="#000080"/><circle cx="780.42" cy="340.64" r="3.4" fill="#0000b9"/><circle cx="787.08" cy="340.64" r="3.4" fill="#0000b9"/><circle cx="793.75" cy="340.64" r="3.4" fill="#0000b9"/><circle cx="800.41" cy="340.64" r="3.4" fill="#0000f3"/><circle cx="807.08" cy="340.64" r="3.4" fill="#0000f3"/><circle cx="813.74" cy="340.64" r="3.4" fill="#0000f3"/><circle cx="820.41" cy="340.64" r="3.4" fill="#0000f3"/><circle cx="827.07" cy="340.64" r="3.4" fill="#0000f3"/><circle cx="833.74" cy="340.64" r="3.4" fill="#001aff"/><circle cx="840.40" cy="340.64" r="3.4" fill="#001aff"/><circle cx="847.07" cy="340.64" r="3.4" fill="#001aff"/><circle cx="853.73" cy="340.64" r="3.4" fill="#001aff"/><circle cx="860.40" cy="340.64" r="3.4" fill="#001aff"/><circle cx="867.06" cy="340.64" r="3.4" fill="#001aff"/><circle cx="873.73" cy="340.64" r="3.4" fill="#004dff"/><circle cx="880.39" cy="340.64" r="3.4" fill="#004dff"/><circle cx="887.06" cy="340.64" r="3.4" fill="#004dff"/><circle cx="893.72" cy="340.64" r="3.4" fill="#001aff"/><circle cx="900.39" cy="340.64" r="3.4" fill="#0080ff"/><circle cx="907.05" cy="340.64" r="3.4" fill="#0080ff"/><circle cx="913.72" cy="340.64" r="3.4" fill="#004dff"/><circle cx="920.38" cy="340.64" r="3.4" fill="#0080ff"/><circle cx="927.05" cy="340.64" r="3.4" fill="#00e6f7"/><circle cx="933.71" cy="340.64" r="3.4" fill="#00b3ff"/><circle cx="947.04" cy="340.64" r="3.4" fill="#52ffa5"/><circle cx="760.42" cy="333.73" r="3.4" fill="#000080"/><circle cx="767.09" cy="333.73" r="3.4" fill="#000080"/><circle cx="773.75" cy="333.73" r="3.4" fill="#0000b9"/><circle cx="780.42" cy="333.73" r="3.4" fill="#0000b9"/><circle cx="787.08" cy="333.73" r="3.4" fill="#0000f3"/><circle cx="793.75" cy="333.73" r="3.4" fill="#0000f3"/><circle cx="800.41" cy="333.73" r="3.4" fill="#0000f3"/><circle cx="807.08" cy="333.73" r="3.4" fill="#0000f3"/><circle cx="813.74" cy="333.73" r="3.4" fill="#001aff"/><circle cx="820.41" cy="333.73" r="3.4" fill="#001aff"/><circle cx="827.07" cy="333.73" r="3.4" fill="#001aff"/><circle cx="833.74" cy="333.73" r="3.4" fill="#001aff"/><circle cx="840.40" cy="333.73" r="3.4" fill="#004dff"/><circle cx="847.07" cy="333.73" r="3.4" fill="#004dff"/><circle cx="853.73" cy="333.73" r="3.4" fill="#004dff"/><circle cx="860.40" cy="333.73" r="3.4" fill="#0080ff"/><circle cx="867.06" cy="333.73" r="3.4" fill="#0080ff"/><circle cx="873.73" cy="333.73" r="3.4" fill="#00b3ff"/><circle cx="880.39" cy="333.73" r="3.4" fill="#00b3ff"/><circle cx="887.06" cy="333.73" r="3.4" fill="#00b3ff"/><circle cx="893.72" cy="333.73" r="3.4" fill="#00e6f7"/><circle cx="900.39" cy="333.73" r="3.4" fill="#00e6f7"/><circle cx="907.05" cy="333.73" r="3.4" fill="#00b3ff"/><circle cx="913.72" cy="333.73" r="3.4" fill="#00e6f7"/><circle cx="920.38" cy="333.73" r="3.4" fill="#00e6f7"/><circle cx="927.05" cy="333.73" r="3.4" fill="#52ffa5"/><circle cx="933.71" cy="333.73" r="3.4" fill="#52ffa5"/><circle cx="940.38" cy="333.73" r="3.4" fill="#52ffa5"/><circle cx="947.04" cy="333.73" r="3.4" fill="#52ffa5"/><circle cx="993.70" cy="333.73" r="3.4" fill="#ceff29"/><circle cx="1000.36" cy="333.73" r="3.4" fill="#a5ff52"/><circle cx="1007.03" cy="333.73" r="3.4" fill="#7bff7b"/><circle cx="767.09" cy="326.83" r="3.4" fill="#000080"/><circle cx="773.75" cy="326.83" r="3.4" fill="#0000b9"/><circle cx="780.42" cy="326.83" r="3.4" fill="#0000b9"/><circle cx="787.08" cy="326.83" r="3.4" fill="#0000f3"/><circle cx="793.75" cy="326.83" r="3.4" fill="#0000f3"/><circle cx="800.41" cy="326.83" r="3.4" fill="#0000f3"/><circle cx="807.08" cy="326.83" r="3.4" fill="#001aff"/><circle cx="813.74" cy="326.83" r="3.4" fill="#001aff"/><circle cx="820.41" cy="326.83" r="3.4" fill="#004dff"/><circle cx="827.07" cy="326.83" r="3.4" fill="#004dff"/><circle cx="833.74" cy="326.83" r="3.4" fill="#004dff"/><circle cx="840.40" cy="326.83" r="3.4" fill="#0080ff"/><circle cx="847.07" cy="326.83" r="3.4" fill="#0080ff"/><circle cx="853.73" cy="326.83" r="3.4" fill="#0080ff"/><circle cx="860.40" cy="326.83" r="3.4" fill="#0080ff"/><circle cx="867.06" cy="326.83" r="3.4" fill="#0080ff"/><circle cx="873.73" cy="326.83" r="3.4" fill="#00b3ff"/><circle cx="880.39" cy="326.83" r="3.4" fill="#00e6f7"/><circle cx="887.06" cy="326.83" r="3.4" fill="#00e6f7"/><circle cx="893.72" cy="326.83" r="3.4" fill="#00e6f7"/><circle cx="900.39" cy="326.83" r="3.4" fill="#29ffce"/><circle cx="907.05" cy="326.83" r="3.4" fill="#52ffa5"/><circle cx="913.72" cy="326.83" r="3.4" fill="#a5ff52"/><circle cx="920.38" cy="326.83" r="3.4" fill="#29ffce"/><circle cx="927.05" cy="326.83" r="3.4" fill="#00e6f7"/><circle cx="933.71" cy="326.83" r="3.4" fill="#a5ff52"/><circle cx="940.38" cy="326.83" r="3.4" fill="#a5ff52"/><circle cx="947.04" cy="326.83" r="3.4" fill="#00e6f7"/><circle cx="953.71" cy="326.83" r="3.4" fill="#ffc600"/><circle cx="967.04" cy="326.83" r="3.4" fill="#52ffa5"/><circle cx="987.03" cy="326.83" r="3.4" fill="#7bff7b"/><circle cx="767.09" cy="319.92" r="3.4" fill="#0000b9"/><circle cx="773.75" cy="319.92" r="3.4" fill="#0000b9"/><circle cx="780.42" cy="319.92" r="3.4" fill="#0000f3"/><circle cx="787.08" cy="319.92" r="3.4" fill="#0000f3"/><circle cx="793.75" cy="319.92" r="3.4" fill="#0000f3"/><circle cx="800.41" cy="319.92" r="3.4" fill="#001aff"/><circle cx="807.08" cy="319.92" r="3.4" fill="#004dff"/><circle cx="813.74" cy="319.92" r="3.4" fill="#004dff"/><circle cx="820.41" cy="319.92" r="3.4" fill="#0080ff"/><circle cx="827.07" cy="319.92" r="3.4" fill="#0080ff"/><circle cx="833.74" cy="319.92" r="3.4" fill="#0080ff"/><circle cx="840.40" cy="319.92" r="3.4" fill="#0080ff"/><circle cx="847.07" cy="319.92" r="3.4" fill="#00b3ff"/><circle cx="853.73" cy="319.92" r="3.4" fill="#00b3ff"/><circle cx="860.40" cy="319.92" r="3.4" fill="#00e6f7"/><circle cx="867.06" cy="319.92" r="3.4" fill="#00e6f7"/><circle cx="873.73" cy="319.92" r="3.4" fill="#29ffce"/><circle cx="880.39" cy="319.92" r="3.4" fill="#00e6f7"/><circle cx="887.06" cy="319.92" r="3.4" fill="#29ffce"/><circle cx="893.72" cy="319.92" r="3.4" fill="#00e6f7"/><circle cx="900.39" cy="319.92" r="3.4" fill="#29ffce"/><circle cx="907.05" cy="319.92" r="3.4" fill="#29ffce"/><circle cx="913.72" cy="319.92" r="3.4" fill="#a5ff52"/><circle cx="920.38" cy="319.92" r="3.4" fill="#ceff29"/><circle cx="927.05" cy="319.92" r="3.4" fill="#ffc600"/><circle cx="933.71" cy="319.92" r="3.4" fill="#a5ff52"/><circle cx="940.38" cy="319.92" r="3.4" fill="#a5ff52"/><circle cx="947.04" cy="319.92" r="3.4" fill="#ceff29"/><circle cx="953.71" cy="319.92" r="3.4" fill="#f7f600"/><circle cx="960.37" cy="319.92" r="3.4" fill="#ff3900"/><circle cx="760.42" cy="313.01" r="3.4" fill="#000080"/><circle cx="767.09" cy="313.01" r="3.4" fill="#000080"/><circle cx="773.75" cy="313.01" r="3.4" fill="#0000b9"/><circle cx="780.42" cy="313.01" r="3.4" fill="#0000f3"/><circle cx="787.08" cy="313.01" r="3.4" fill="#0000f3"/><circle cx="793.75" cy="313.01" r="3.4" fill="#0000f3"/><circle cx="800.41" cy="313.01" r="3.4" fill="#001aff"/><circle cx="807.08" cy="313.01" r="3.4" fill="#004dff"/><circle cx="813.74" cy="313.01" r="3.4" fill="#0080ff"/><circle cx="820.41" cy="313.01" r="3.4" fill="#0080ff"/><circle cx="827.07" cy="313.01" r="3.4" fill="#00b3ff"/><circle cx="833.74" cy="313.01" r="3.4" fill="#00e6f7"/><circle cx="840.40" cy="313.01" r="3.4" fill="#00e6f7"/><circle cx="847.07" cy="313.01" r="3.4" fill="#00e6f7"/><circle cx="853.73" cy="313.01" r="3.4" fill="#29ffce"/><circle cx="860.40" cy="313.01" r="3.4" fill="#29ffce"/><circle cx="867.06" cy="313.01" r="3.4" fill="#52ffa5"/><circle cx="873.73" cy="313.01" r="3.4" fill="#52ffa5"/><circle cx="880.39" cy="313.01" r="3.4" fill="#7bff7b"/><circle cx="887.06" cy="313.01" r="3.4" fill="#29ffce"/><circle cx="893.72" cy="313.01" r="3.4" fill="#29ffce"/><circle cx="900.39" cy="313.01" r="3.4" fill="#a5ff52"/><circle cx="907.05" cy="313.01" r="3.4" fill="#a5ff52"/><circle cx="913.72" cy="313.01" r="3.4" fill="#7bff7b"/><circle cx="920.38" cy="313.01" r="3.4" fill="#ff9700"/><circle cx="927.05" cy="313.01" r="3.4" fill="#a5ff52"/><circle cx="933.71" cy="313.01" r="3.4" fill="#a5ff52"/><circle cx="940.38" cy="313.01" r="3.4" fill="#f7f600"/><circle cx="947.04" cy="313.01" r="3.4" fill="#7bff7b"/><circle cx="953.71" cy="313.01" r="3.4" fill="#a5ff52"/><circle cx="973.70" cy="313.01" r="3.4" fill="#800000"/><circle cx="1033.69" cy="313.01" r="3.4" fill="#ff9700"/><circle cx="773.75" cy="306.11" r="3.4" fill="#0000b9"/><circle cx="780.42" cy="306.11" r="3.4" fill="#0000f3"/><circle cx="787.08" cy="306.11" r="3.4" fill="#0000f3"/><circle cx="793.75" cy="306.11" r="3.4" fill="#001aff"/><circle cx="800.41" cy="306.11" r="3.4" fill="#001aff"/><circle cx="807.08" cy="306.11" r="3.4" fill="#004dff"/><circle cx="813.74" cy="306.11" r="3.4" fill="#004dff"/><circle cx="820.41" cy="306.11" r="3.4" fill="#0080ff"/><circle cx="827.07" cy="306.11" r="3.4" fill="#00b3ff"/><circle cx="833.74" cy="306.11" r="3.4" fill="#00e6f7"/><circle cx="840.40" cy="306.11" r="3.4" fill="#00e6f7"/><circle cx="847.07" cy="306.11" r="3.4" fill="#29ffce"/><circle cx="853.73" cy="306.11" r="3.4" fill="#52ffa5"/><circle cx="860.40" cy="306.11" r="3.4" fill="#52ffa5"/><circle cx="867.06" cy="306.11" r="3.4" fill="#52ffa5"/><circle cx="873.73" cy="306.11" r="3.4" fill="#7bff7b"/><circle cx="880.39" cy="306.11" r="3.4" fill="#7bff7b"/><circle cx="887.06" cy="306.11" r="3.4" fill="#7bff7b"/><circle cx="893.72" cy="306.11" r="3.4" fill="#29ffce"/><circle cx="900.39" cy="306.11" r="3.4" fill="#7bff7b"/><circle cx="907.05" cy="306.11" r="3.4" fill="#ceff29"/><circle cx="913.72" cy="306.11" r="3.4" fill="#ceff29"/><circle cx="920.38" cy="306.11" r="3.4" fill="#ceff29"/><circle cx="927.05" cy="306.11" r="3.4" fill="#a5ff52"/><circle cx="933.71" cy="306.11" r="3.4" fill="#ceff29"/><circle cx="947.04" cy="306.11" r="3.4" fill="#a5ff52"/><circle cx="953.71" cy="306.11" r="3.4" fill="#ceff29"/><circle cx="960.37" cy="306.11" r="3.4" fill="#ffc600"/><circle cx="967.04" cy="306.11" r="3.4" fill="#a5ff52"/><circle cx="993.70" cy="306.11" r="3.4" fill="#ffc600"/><circle cx="1013.69" cy="306.11" r="3.4" fill="#ff9700"/><circle cx="780.42" cy="299.20" r="3.4" fill="#0000b9"/><circle cx="787.08" cy="299.20" r="3.4" fill="#0000b9"/><circle cx="793.75" cy="299.20" r="3.4" fill="#0000f3"/><circle cx="800.41" cy="299.20" r="3.4" fill="#001aff"/><circle cx="807.08" cy="299.20" r="3.4" fill="#004dff"/><circle cx="813.74" cy="299.20" r="3.4" fill="#0080ff"/><circle cx="820.41" cy="299.20" r="3.4" fill="#00b3ff"/><circle cx="827.07" cy="299.20" r="3.4" fill="#29ffce"/><circle cx="833.74" cy="299.20" r="3.4" fill="#29ffce"/><circle cx="840.40" cy="299.20" r="3.4" fill="#29ffce"/><circle cx="847.07" cy="299.20" r="3.4" fill="#a5ff52"/><circle cx="853.73" cy="299.20" r="3.4" fill="#52ffa5"/><circle cx="860.40" cy="299.20" r="3.4" fill="#7bff7b"/><circle cx="867.06" cy="299.20" r="3.4" fill="#52ffa5"/><circle cx="873.73" cy="299.20" r="3.4" fill="#7bff7b"/><circle cx="880.39" cy="299.20" r="3.4" fill="#a5ff52"/><circle cx="887.06" cy="299.20" r="3.4" fill="#7bff7b"/><circle cx="893.72" cy="299.20" r="3.4" fill="#ffc600"/><circle cx="900.39" cy="299.20" r="3.4" fill="#ceff29"/><circle cx="907.05" cy="299.20" r="3.4" fill="#f7f600"/><circle cx="913.72" cy="299.20" r="3.4" fill="#a5ff52"/><circle cx="920.38" cy="299.20" r="3.4" fill="#52ffa5"/><circle cx="927.05" cy="299.20" r="3.4" fill="#a5ff52"/><circle cx="933.71" cy="299.20" r="3.4" fill="#a5ff52"/><circle cx="947.04" cy="299.20" r="3.4" fill="#a5ff52"/><circle cx="953.71" cy="299.20" r="3.4" fill="#f7f600"/><circle cx="967.04" cy="299.20" r="3.4" fill="#f7f600"/><circle cx="973.70" cy="299.20" r="3.4" fill="#ffc600"/><circle cx="773.75" cy="292.30" r="3.4" fill="#0000b9"/><circle cx="787.08" cy="292.30" r="3.4" fill="#0000f3"/><circle cx="793.75" cy="292.30" r="3.4" fill="#001aff"/><circle cx="800.41" cy="292.30" r="3.4" fill="#004dff"/><circle cx="807.08" cy="292.30" r="3.4" fill="#004dff"/><circle cx="813.74" cy="292.30" r="3.4" fill="#00b3ff"/><circle cx="820.41" cy="292.30" r="3.4" fill="#00e6f7"/><circle cx="827.07" cy="292.30" r="3.4" fill="#29ffce"/><circle cx="833.74" cy="292.30" r="3.4" fill="#52ffa5"/><circle cx="840.40" cy="292.30" r="3.4" fill="#52ffa5"/><circle cx="847.07" cy="292.30" r="3.4" fill="#7bff7b"/><circle cx="853.73" cy="292.30" r="3.4" fill="#7bff7b"/><circle cx="860.40" cy="292.30" r="3.4" fill="#7bff7b"/><circle cx="867.06" cy="292.30" r="3.4" fill="#7bff7b"/><circle cx="873.73" cy="292.30" r="3.4" fill="#f7f600"/><circle cx="880.39" cy="292.30" r="3.4" fill="#ceff29"/><circle cx="887.06" cy="292.30" r="3.4" fill="#ceff29"/><circle cx="893.72" cy="292.30" r="3.4" fill="#a5ff52"/><circle cx="900.39" cy="292.30" r="3.4" fill="#7bff7b"/><circle cx="907.05" cy="292.30" r="3.4" fill="#7bff7b"/><circle cx="913.72" cy="292.30" r="3.4" fill="#ffc600"/><circle cx="920.38" cy="292.30" r="3.4" fill="#ffc600"/><circle cx="927.05" cy="292.30" r="3.4" fill="#7bff7b"/><circle cx="933.71" cy="292.30" r="3.4" fill="#ffc600"/><circle cx="947.04" cy="292.30" r="3.4" fill="#f30900"/><circle cx="953.71" cy="292.30" r="3.4" fill="#ceff29"/><circle cx="973.70" cy="292.30" r="3.4" fill="#ceff29"/><circle cx="780.42" cy="285.39" r="3.4" fill="#0000f3"/><circle cx="787.08" cy="285.39" r="3.4" fill="#004dff"/><circle cx="793.75" cy="285.39" r="3.4" fill="#001aff"/><circle cx="800.41" cy="285.39" r="3.4" fill="#0080ff"/><circle cx="807.08" cy="285.39" r="3.4" fill="#0080ff"/><circle cx="813.74" cy="285.39" r="3.4" fill="#00b3ff"/><circle cx="820.41" cy="285.39" r="3.4" fill="#00e6f7"/><circle cx="827.07" cy="285.39" r="3.4" fill="#52ffa5"/><circle cx="833.74" cy="285.39" r="3.4" fill="#7bff7b"/><circle cx="840.40" cy="285.39" r="3.4" fill="#7bff7b"/><circle cx="847.07" cy="285.39" r="3.4" fill="#7bff7b"/><circle cx="853.73" cy="285.39" r="3.4" fill="#52ffa5"/><circle cx="860.40" cy="285.39" r="3.4" fill="#52ffa5"/><circle cx="867.06" cy="285.39" r="3.4" fill="#29ffce"/><circle cx="873.73" cy="285.39" r="3.4" fill="#7bff7b"/><circle cx="880.39" cy="285.39" r="3.4" fill="#ceff29"/><circle cx="887.06" cy="285.39" r="3.4" fill="#7bff7b"/><circle cx="893.72" cy="285.39" r="3.4" fill="#a5ff52"/><circle cx="900.39" cy="285.39" r="3.4" fill="#f7f600"/><circle cx="907.05" cy="285.39" r="3.4" fill="#ff9700"/><circle cx="920.38" cy="285.39" r="3.4" fill="#ff6800"/><circle cx="927.05" cy="285.39" r="3.4" fill="#a5ff52"/><circle cx="933.71" cy="285.39" r="3.4" fill="#52ffa5"/><circle cx="947.04" cy="285.39" r="3.4" fill="#ffc600"/><circle cx="773.75" cy="278.48" r="3.4" fill="#0000b9"/><circle cx="780.42" cy="278.48" r="3.4" fill="#0000b9"/><circle cx="787.08" cy="278.48" r="3.4" fill="#004dff"/><circle cx="793.75" cy="278.48" r="3.4" fill="#004dff"/><circle cx="800.41" cy="278.48" r="3.4" fill="#0080ff"/><circle cx="807.08" cy="278.48" r="3.4" fill="#00e6f7"/><circle cx="813.74" cy="278.48" r="3.4" fill="#00e6f7"/><circle cx="820.41" cy="278.48" r="3.4" fill="#29ffce"/><circle cx="827.07" cy="278.48" r="3.4" fill="#52ffa5"/><circle cx="833.74" cy="278.48" r="3.4" fill="#a5ff52"/><circle cx="840.40" cy="278.48" r="3.4" fill="#7bff7b"/><circle cx="847.07" cy="278.48" r="3.4" fill="#7bff7b"/><circle cx="853.73" cy="278.48" r="3.4" fill="#ceff29"/><circle cx="860.40" cy="278.48" r="3.4" fill="#ceff29"/><circle cx="867.06" cy="278.48" r="3.4" fill="#7bff7b"/><circle cx="873.73" cy="278.48" r="3.4" fill="#7bff7b"/><circle cx="880.39" cy="278.48" r="3.4" fill="#ffc600"/><circle cx="887.06" cy="278.48" r="3.4" fill="#ffc600"/><circle cx="893.72" cy="278.48" r="3.4" fill="#7bff7b"/><circle cx="900.39" cy="278.48" r="3.4" fill="#ffc600"/><circle cx="907.05" cy="278.48" r="3.4" fill="#ceff29"/><circle cx="927.05" cy="278.48" r="3.4" fill="#ffc600"/><circle cx="933.71" cy="278.48" r="3.4" fill="#a5ff52"/><circle cx="787.08" cy="271.58" r="3.4" fill="#0000f3"/><circle cx="793.75" cy="271.58" r="3.4" fill="#004dff"/><circle cx="800.41" cy="271.58" r="3.4" fill="#29ffce"/><circle cx="807.08" cy="271.58" r="3.4" fill="#29ffce"/><circle cx="813.74" cy="271.58" r="3.4" fill="#52ffa5"/><circle cx="820.41" cy="271.58" r="3.4" fill="#52ffa5"/><circle cx="827.07" cy="271.58" r="3.4" fill="#a5ff52"/><circle cx="833.74" cy="271.58" r="3.4" fill="#ceff29"/><circle cx="840.40" cy="271.58" r="3.4" fill="#a5ff52"/><circle cx="847.07" cy="271.58" r="3.4" fill="#7bff7b"/><circle cx="853.73" cy="271.58" r="3.4" fill="#f7f600"/><circle cx="860.40" cy="271.58" r="3.4" fill="#ceff29"/><circle cx="867.06" cy="271.58" r="3.4" fill="#7bff7b"/><circle cx="873.73" cy="271.58" r="3.4" fill="#ff9700"/><circle cx="880.39" cy="271.58" r="3.4" fill="#ceff29"/><circle cx="887.06" cy="271.58" r="3.4" fill="#ceff29"/><circle cx="893.72" cy="271.58" r="3.4" fill="#ceff29"/><circle cx="907.05" cy="271.58" r="3.4" fill="#ff6800"/><circle cx="927.05" cy="271.58" r="3.4" fill="#b90000"/><circle cx="787.08" cy="264.67" r="3.4" fill="#004dff"/><circle cx="793.75" cy="264.67" r="3.4" fill="#0000f3"/><circle cx="800.41" cy="264.67" r="3.4" fill="#0080ff"/><circle cx="807.08" cy="264.67" r="3.4" fill="#00e6f7"/><circle cx="813.74" cy="264.67" r="3.4" fill="#29ffce"/><circle cx="820.41" cy="264.67" r="3.4" fill="#29ffce"/><circle cx="827.07" cy="264.67" r="3.4" fill="#7bff7b"/><circle cx="833.74" cy="264.67" r="3.4" fill="#7bff7b"/><circle cx="840.40" cy="264.67" r="3.4" fill="#ceff29"/><circle cx="847.07" cy="264.67" r="3.4" fill="#ceff29"/><circle cx="853.73" cy="264.67" r="3.4" fill="#7bff7b"/><circle cx="860.40" cy="264.67" r="3.4" fill="#52ffa5"/><circle cx="867.06" cy="264.67" r="3.4" fill="#a5ff52"/><circle cx="873.73" cy="264.67" r="3.4" fill="#a5ff52"/><circle cx="880.39" cy="264.67" r="3.4" fill="#52ffa5"/><circle cx="887.06" cy="264.67" r="3.4" fill="#00e6f7"/><circle cx="893.72" cy="264.67" r="3.4" fill="#ceff29"/><circle cx="900.39" cy="264.67" r="3.4" fill="#00e6f7"/><circle cx="947.04" cy="264.67" r="3.4" fill="#ff9700"/><circle cx="960.37" cy="264.67" r="3.4" fill="#ceff29"/><circle cx="787.08" cy="257.77" r="3.4" fill="#0000f3"/><circle cx="793.75" cy="257.77" r="3.4" fill="#00e6f7"/><circle cx="800.41" cy="257.77" r="3.4" fill="#00e6f7"/><circle cx="807.08" cy="257.77" r="3.4" fill="#00b3ff"/><circle cx="813.74" cy="257.77" r="3.4" fill="#29ffce"/><circle cx="820.41" cy="257.77" r="3.4" fill="#29ffce"/><circle cx="827.07" cy="257.77" r="3.4" fill="#52ffa5"/><circle cx="833.74" cy="257.77" r="3.4" fill="#7bff7b"/><circle cx="840.40" cy="257.77" r="3.4" fill="#ceff29"/><circle cx="847.07" cy="257.77" r="3.4" fill="#ff9700"/><circle cx="853.73" cy="257.77" r="3.4" fill="#a5ff52"/><circle cx="860.40" cy="257.77" r="3.4" fill="#7bff7b"/><circle cx="867.06" cy="257.77" r="3.4" fill="#00e6f7"/><circle cx="873.73" cy="257.77" r="3.4" fill="#7bff7b"/><circle cx="880.39" cy="257.77" r="3.4" fill="#ff9700"/><circle cx="887.06" cy="257.77" r="3.4" fill="#7bff7b"/><circle cx="893.72" cy="257.77" r="3.4" fill="#a5ff52"/><circle cx="907.05" cy="257.77" r="3.4" fill="#ff9700"/><circle cx="927.05" cy="257.77" r="3.4" fill="#ff9700"/><circle cx="940.38" cy="257.77" r="3.4" fill="#ff6800"/><circle cx="787.08" cy="250.86" r="3.4" fill="#0000f3"/><circle cx="793.75" cy="250.86" r="3.4" fill="#004dff"/><circle cx="800.41" cy="250.86" r="3.4" fill="#004dff"/><circle cx="807.08" cy="250.86" r="3.4" fill="#29ffce"/><circle cx="813.74" cy="250.86" r="3.4" fill="#29ffce"/><circle cx="820.41" cy="250.86" r="3.4" fill="#a5ff52"/><circle cx="827.07" cy="250.86" r="3.4" fill="#a5ff52"/><circle cx="833.74" cy="250.86" r="3.4" fill="#7bff7b"/><circle cx="840.40" cy="250.86" r="3.4" fill="#52ffa5"/><circle cx="847.07" cy="250.86" r="3.4" fill="#7bff7b"/><circle cx="853.73" cy="250.86" r="3.4" fill="#a5ff52"/><circle cx="860.40" cy="250.86" r="3.4" fill="#ffc600"/><circle cx="867.06" cy="250.86" r="3.4" fill="#7bff7b"/><circle cx="873.73" cy="250.86" r="3.4" fill="#a5ff52"/><circle cx="880.39" cy="250.86" r="3.4" fill="#7bff7b"/><circle cx="907.05" cy="250.86" r="3.4" fill="#ffc600"/><circle cx="927.05" cy="250.86" r="3.4" fill="#7bff7b"/><circle cx="960.37" cy="250.86" r="3.4" fill="#f30900"/><circle cx="793.75" cy="243.95" r="3.4" fill="#00b3ff"/><circle cx="800.41" cy="243.95" r="3.4" fill="#00b3ff"/><circle cx="807.08" cy="243.95" r="3.4" fill="#7bff7b"/><circle cx="813.74" cy="243.95" r="3.4" fill="#00b3ff"/><circle cx="820.41" cy="243.95" r="3.4" fill="#52ffa5"/><circle cx="827.07" cy="243.95" r="3.4" fill="#52ffa5"/><circle cx="833.74" cy="243.95" r="3.4" fill="#7bff7b"/><circle cx="840.40" cy="243.95" r="3.4" fill="#52ffa5"/><circle cx="847.07" cy="243.95" r="3.4" fill="#29ffce"/><circle cx="853.73" cy="243.95" r="3.4" fill="#f7f600"/><circle cx="860.40" cy="243.95" r="3.4" fill="#ff6800"/><circle cx="867.06" cy="243.95" r="3.4" fill="#29ffce"/><circle cx="887.06" cy="243.95" r="3.4" fill="#ff6800"/><circle cx="893.72" cy="243.95" r="3.4" fill="#ff9700"/><circle cx="953.71" cy="243.95" r="3.4" fill="#ffc600"/><circle cx="793.75" cy="237.05" r="3.4" fill="#0080ff"/><circle cx="800.41" cy="237.05" r="3.4" fill="#00b3ff"/><circle cx="807.08" cy="237.05" r="3.4" fill="#29ffce"/><circle cx="813.74" cy="237.05" r="3.4" fill="#7bff7b"/><circle cx="820.41" cy="237.05" r="3.4" fill="#a5ff52"/><circle cx="827.07" cy="237.05" r="3.4" fill="#7bff7b"/><circle cx="833.74" cy="237.05" r="3.4" fill="#ceff29"/><circle cx="840.40" cy="237.05" r="3.4" fill="#29ffce"/><circle cx="847.07" cy="237.05" r="3.4" fill="#ceff29"/><circle cx="853.73" cy="237.05" r="3.4" fill="#7bff7b"/><circle cx="860.40" cy="237.05" r="3.4" fill="#ff3900"/><circle cx="867.06" cy="237.05" r="3.4" fill="#ff3900"/><circle cx="873.73" cy="237.05" r="3.4" fill="#52ffa5"/><circle cx="880.39" cy="237.05" r="3.4" fill="#ff3900"/><circle cx="900.39" cy="237.05" r="3.4" fill="#ffc600"/><circle cx="933.71" cy="237.05" r="3.4" fill="#f30900"/><circle cx="793.75" cy="230.14" r="3.4" fill="#29ffce"/><circle cx="800.41" cy="230.14" r="3.4" fill="#0000f3"/><circle cx="807.08" cy="230.14" r="3.4" fill="#00b3ff"/><circle cx="813.74" cy="230.14" r="3.4" fill="#7bff7b"/><circle cx="820.41" cy="230.14" r="3.4" fill="#7bff7b"/><circle cx="827.07" cy="230.14" r="3.4" fill="#7bff7b"/><circle cx="833.74" cy="230.14" r="3.4" fill="#7bff7b"/><circle cx="840.40" cy="230.14" r="3.4" fill="#ceff29"/><circle cx="847.07" cy="230.14" r="3.4" fill="#00e6f7"/><circle cx="860.40" cy="230.14" r="3.4" fill="#29ffce"/><circle cx="867.06" cy="230.14" r="3.4" fill="#29ffce"/><circle cx="873.73" cy="230.14" r="3.4" fill="#a5ff52"/><circle cx="880.39" cy="230.14" r="3.4" fill="#7bff7b"/><circle cx="887.06" cy="230.14" r="3.4" fill="#f7f600"/><circle cx="893.72" cy="230.14" r="3.4" fill="#ff9700"/><circle cx="787.08" cy="223.24" r="3.4" fill="#0000f3"/><circle cx="793.75" cy="223.24" r="3.4" fill="#004dff"/><circle cx="800.41" cy="223.24" r="3.4" fill="#29ffce"/><circle cx="807.08" cy="223.24" r="3.4" fill="#29ffce"/><circle cx="813.74" cy="223.24" r="3.4" fill="#52ffa5"/><circle cx="820.41" cy="223.24" r="3.4" fill="#52ffa5"/><circle cx="827.07" cy="223.24" r="3.4" fill="#29ffce"/><circle cx="833.74" cy="223.24" r="3.4" fill="#7bff7b"/><circle cx="840.40" cy="223.24" r="3.4" fill="#a5ff52"/><circle cx="847.07" cy="223.24" r="3.4" fill="#ff9700"/><circle cx="853.73" cy="223.24" r="3.4" fill="#a5ff52"/><circle cx="860.40" cy="223.24" r="3.4" fill="#7bff7b"/><circle cx="867.06" cy="223.24" r="3.4" fill="#ff9700"/><circle cx="873.73" cy="223.24" r="3.4" fill="#ceff29"/><circle cx="880.39" cy="223.24" r="3.4" fill="#ff9700"/><circle cx="787.08" cy="216.33" r="3.4" fill="#001aff"/><circle cx="807.08" cy="216.33" r="3.4" fill="#7bff7b"/><circle cx="813.74" cy="216.33" r="3.4" fill="#52ffa5"/><circle cx="820.41" cy="216.33" r="3.4" fill="#29ffce"/><circle cx="827.07" cy="216.33" r="3.4" fill="#ceff29"/><circle cx="833.74" cy="216.33" r="3.4" fill="#52ffa5"/><circle cx="840.40" cy="216.33" r="3.4" fill="#a5ff52"/><circle cx="847.07" cy="216.33" r="3.4" fill="#7bff7b"/><circle cx="853.73" cy="216.33" r="3.4" fill="#7bff7b"/><circle cx="860.40" cy="216.33" r="3.4" fill="#ceff29"/><circle cx="867.06" cy="216.33" r="3.4" fill="#ceff29"/><circle cx="887.06" cy="216.33" r="3.4" fill="#a5ff52"/><circle cx="800.41" cy="209.42" r="3.4" fill="#29ffce"/><circle cx="807.08" cy="209.42" r="3.4" fill="#52ffa5"/><circle cx="813.74" cy="209.42" r="3.4" fill="#00e6f7"/><circle cx="820.41" cy="209.42" r="3.4" fill="#ceff29"/><circle cx="827.07" cy="209.42" r="3.4" fill="#52ffa5"/><circle cx="833.74" cy="209.42" r="3.4" fill="#7bff7b"/><circle cx="840.40" cy="209.42" r="3.4" fill="#7bff7b"/><circle cx="847.07" cy="209.42" r="3.4" fill="#a5ff52"/><circle cx="853.73" cy="209.42" r="3.4" fill="#ceff29"/><circle cx="867.06" cy="209.42" r="3.4" fill="#29ffce"/><circle cx="793.75" cy="202.52" r="3.4" fill="#00b3ff"/><circle cx="800.41" cy="202.52" r="3.4" fill="#52ffa5"/><circle cx="807.08" cy="202.52" r="3.4" fill="#7bff7b"/><circle cx="813.74" cy="202.52" r="3.4" fill="#00e6f7"/><circle cx="820.41" cy="202.52" r="3.4" fill="#52ffa5"/><circle cx="827.07" cy="202.52" r="3.4" fill="#f7f600"/><circle cx="840.40" cy="202.52" r="3.4" fill="#ffc600"/><circle cx="847.07" cy="202.52" r="3.4" fill="#ceff29"/><circle cx="860.40" cy="202.52" r="3.4" fill="#f7f600"/><circle cx="867.06" cy="202.52" r="3.4" fill="#7bff7b"/><circle cx="800.41" cy="195.61" r="3.4" fill="#00b3ff"/><circle cx="807.08" cy="195.61" r="3.4" fill="#00e6f7"/><circle cx="813.74" cy="195.61" r="3.4" fill="#29ffce"/><circle cx="820.41" cy="195.61" r="3.4" fill="#7bff7b"/><circle cx="833.74" cy="195.61" r="3.4" fill="#ceff29"/><circle cx="860.40" cy="195.61" r="3.4" fill="#29ffce"/><circle cx="793.75" cy="188.71" r="3.4" fill="#00e6f7"/><circle cx="813.74" cy="188.71" r="3.4" fill="#00b3ff"/><circle cx="820.41" cy="188.71" r="3.4" fill="#a5ff52"/><circle cx="833.74" cy="188.71" r="3.4" fill="#00e6f7"/><circle cx="800.41" cy="181.80" r="3.4" fill="#0080ff"/><circle cx="807.08" cy="181.80" r="3.4" fill="#52ffa5"/><circle cx="813.74" cy="181.80" r="3.4" fill="#52ffa5"/><circle cx="827.07" cy="181.80" r="3.4" fill="#52ffa5"/><circle cx="840.40" cy="181.80" r="3.4" fill="#29ffce"/><circle cx="847.07" cy="181.80" r="3.4" fill="#ffc600"/><circle cx="813.74" cy="174.89" r="3.4" fill="#29ffce"/><circle cx="820.41" cy="174.89" r="3.4" fill="#a5ff52"/><circle cx="833.74" cy="174.89" r="3.4" fill="#7bff7b"/><circle cx="800.41" cy="167.99" r="3.4" fill="#00b3ff"/><circle cx="807.08" cy="167.99" r="3.4" fill="#a5ff52"/><circle cx="813.74" cy="167.99" r="3.4" fill="#29ffce"/><circle cx="820.41" cy="167.99" r="3.4" fill="#a5ff52"/><circle cx="880.39" cy="167.99" r="3.4" fill="#ff9700"/><circle cx="800.41" cy="161.08" r="3.4" fill="#00e6f7"/><circle cx="807.08" cy="161.08" r="3.4" fill="#7bff7b"/><circle cx="813.74" cy="161.08" r="3.4" fill="#a5ff52"/><circle cx="820.41" cy="161.08" r="3.4" fill="#7bff7b"/><circle cx="833.74" cy="161.08" r="3.4" fill="#7bff7b"/><circle cx="840.40" cy="161.08" r="3.4" fill="#7bff7b"/><circle cx="813.74" cy="154.18" r="3.4" fill="#7bff7b"/><circle cx="827.07" cy="154.18" r="3.4" fill="#7bff7b"/><circle cx="833.74" cy="154.18" r="3.4" fill="#52ffa5"/><circle cx="840.40" cy="154.18" r="3.4" fill="#52ffa5"/><circle cx="807.08" cy="147.27" r="3.4" fill="#00e6f7"/><circle cx="820.41" cy="147.27" r="3.4" fill="#a5ff52"/><circle cx="833.74" cy="147.27" r="3.4" fill="#7bff7b"/><circle cx="820.41" cy="140.36" r="3.4" fill="#52ffa5"/><circle cx="853.73" cy="140.36" r="3.4" fill="#ff6800"/><circle cx="827.07" cy="133.46" r="3.4" fill="#a5ff52"/><circle cx="820.41" cy="126.55" r="3.4" fill="#00e6f7"/><circle cx="820.41" cy="119.65" r="3.4" fill="#f7f600"/><circle cx="820.41" cy="112.74" r="3.4" fill="#ceff29"/><circle cx="813.74" cy="98.93" r="3.4" fill="#a5ff52"/><circle cx="800.41" cy="71.30" r="3.4" fill="#7bff7b"/><circle cx="807.08" cy="71.30" r="3.4" fill="#ff6800"/><circle cx="827.07" cy="71.30" r="3.4" fill="#ceff29"/></g>
<rect x="720.40" y="2.50" width="346.80" height="358.10" fill="none" stroke="#000" stroke-width="1.56"/>
<line x1="726.80" y1="360.60" x2="726.80" y2="367.40" stroke="#000" stroke-width="1.56"/>
<text x="-0.750" y="0" transform="translate(721.87 389.60) scale(1.0128 1)" font-family="Liberation Sans, sans-serif" font-size="20.4">0</text>
<line x1="860.10" y1="360.60" x2="860.10" y2="367.40" stroke="#000" stroke-width="1.56"/>
<text x="-1.500" y="0" transform="translate(849.86 389.60) scale(1.0491 1)" font-family="Liberation Sans, sans-serif" font-size="20.4">10</text>
<line x1="993.40" y1="360.60" x2="993.40" y2="367.40" stroke="#000" stroke-width="1.56"/>
<text x="-1.000" y="0" transform="translate(982.41 389.60) scale(1.0599 1)" font-family="Liberation Sans, sans-serif" font-size="20.4">20</text>
<line x1="713.60" y1="354.40" x2="720.40" y2="354.40" stroke="#000" stroke-width="1.56"/>
<text x="-0.750" y="0" transform="translate(676.98 361.90) scale(1.0607 1)" font-family="Liberation Sans, sans-serif" font-size="20.4">0.0</text>
<line x1="713.60" y1="285.34" x2="720.40" y2="285.34" stroke="#000" stroke-width="1.56"/>
<text x="-0.750" y="0" transform="translate(676.98 292.84) scale(1.0472 1)" font-family="Liberation Sans, sans-serif" font-size="20.4">0.2</text>
<line x1="713.60" y1="216.28" x2="720.40" y2="216.28" stroke="#000" stroke-width="1.56"/>
<text x="-0.750" y="0" transform="translate(676.98 223.78) scale(1.0602 1)" font-family="Liberation Sans, sans-serif" font-size="20.4">0.4</text>
<line x1="713.60" y1="147.22" x2="720.40" y2="147.22" stroke="#000" stroke-width="1.56"/>
<text x="-0.750" y="0" transform="translate(676.98 154.72) scale(1.0657 1)" font-family="Liberation Sans, sans-serif" font-size="20.4">0.6</text>
<line x1="713.60" y1="78.16" x2="720.40" y2="78.16" stroke="#000" stroke-width="1.56"/>
<text x="-0.750" y="0" transform="translate(676.98 85.66) scale(1.0607 1)" font-family="Liberation Sans, sans-serif" font-size="20.4">0.8</text>
<line x1="713.60" y1="9.10" x2="720.40" y2="9.10" stroke="#000" stroke-width="1.56"/>
<text x="-1.500" y="0" transform="translate(677.85 16.60) scale(1.0577 1)" font-family="Liberation Sans, sans-serif" font-size="20.4">1.0</text>
<text x="-1.625" y="0" transform="translate(763.30 418.90) scale(1.0919 1)" font-family="Liberation Sans, sans-serif" font-size="20.4">LPD × Density, Å × g cm</text>
<text x="-0.750" y="0" transform="translate(1005.30 411.90) scale(1.2101 1)" font-family="Liberation Sans, sans-serif" font-size="14.3">−3</text>
<text x="-0.500" y="0" transform="translate(662.50 338.75) rotate(-90) scale(1.0901 1)" font-family="Liberation Sans, sans-serif" font-size="20.4">Thermal Conductivity, Wm</text>
<text x="-0.750" y="0" transform="translate(655.60 79.05) rotate(-90) scale(1.2034 1)" font-family="Liberation Sans, sans-serif" font-size="14.3">−1</text>
<text x="-1.625" y="0" transform="translate(662.50 57.45) rotate(-90) scale(0.9032 1)" font-family="Liberation Sans, sans-serif" font-size="20.4">K</text>
<text x="-0.750" y="0" transform="translate(655.60 45.15) rotate(-90) scale(1.1697 1)" font-family="Liberation Sans, sans-serif" font-size="14.3">−1</text>
<rect x="1089.10" y="2.50" width="17.80" height="358.40" fill="url(#jet)" stroke="#000" stroke-width="1.56"/>
<line x1="1106.90" y1="325.27" x2="1113.70" y2="325.27" stroke="#000" stroke-width="1.56"/>
<text x="-0.750" y="0" transform="translate(1121.75 332.67) scale(1.0472 1)" font-family="Liberation Sans, sans-serif" font-size="20.4">0.2</text>
<line x1="1106.90" y1="279.86" x2="1113.70" y2="279.86" stroke="#000" stroke-width="1.56"/>
<text x="-0.750" y="0" transform="translate(1121.75 287.26) scale(1.0602 1)" font-family="Liberation Sans, sans-serif" font-size="20.4">0.4</text>
<line x1="1106.90" y1="234.45" x2="1113.70" y2="234.45" stroke="#000" stroke-width="1.56"/>
<text x="-0.750" y="0" transform="translate(1121.75 241.85) scale(1.0657 1)" font-family="Liberation Sans, sans-serif" font-size="20.4">0.6</text>
<line x1="1106.90" y1="189.04" x2="1113.70" y2="189.04" stroke="#000" stroke-width="1.56"/>
<text x="-0.750" y="0" transform="translate(1121.75 196.44) scale(1.0607 1)" font-family="Liberation Sans, sans-serif" font-size="20.4">0.8</text>
<line x1="1106.90" y1="143.63" x2="1113.70" y2="143.63" stroke="#000" stroke-width="1.56"/>
<text x="-1.500" y="0" transform="translate(1122.62 151.03) scale(1.0577 1)" font-family="Liberation Sans, sans-serif" font-size="20.4">1.0</text>
<line x1="1106.90" y1="98.22" x2="1113.70" y2="98.22" stroke="#000" stroke-width="1.56"/>
<text x="-1.500" y="0" transform="translate(1122.62 105.62) scale(1.0437 1)" font-family="Liberation Sans, sans-serif" font-size="20.4">1.2</text>
<line x1="1106.90" y1="52.81" x2="1113.70" y2="52.81" stroke="#000" stroke-width="1.56"/>
<text x="-1.500" y="0" transform="translate(1122.62 60.21) scale(1.0571 1)" font-family="Liberation Sans, sans-serif" font-size="20.4">1.4</text>
<line x1="1106.90" y1="7.40" x2="1113.70" y2="7.40" stroke="#000" stroke-width="1.56"/>
<text x="-1.500" y="0" transform="translate(1122.62 14.80) scale(1.0628 1)" font-family="Liberation Sans, sans-serif" font-size="20.4">1.6</text>
<text x="-2.000" y="0" transform="translate(619.80 23.60) scale(1.0528 1)" font-family="Liberation Sans, sans-serif" font-size="31" font-weight="bold">b</text>
<g><circle cx="141.28" cy="804.45" r="3.4" fill="#800000"/><circle cx="147.87" cy="804.45" r="3.4" fill="#800000"/><circle cx="141.28" cy="797.62" r="3.4" fill="#800000"/><circle cx="147.87" cy="797.62" r="3.4" fill="#800000"/><circle cx="154.47" cy="797.62" r="3.4" fill="#800000"/><circle cx="161.06" cy="797.62" r="3.4" fill="#b90000"/><circle cx="167.66" cy="797.62" r="3.4" fill="#b90000"/><circle cx="174.25" cy="797.62" r="3.4" fill="#f30900"/><circle cx="180.85" cy="797.62" r="3.4" fill="#b90000"/><circle cx="187.44" cy="797.62" r="3.4" fill="#b90000"/><circle cx="194.04" cy="797.62" r="3.4" fill="#f30900"/><circle cx="200.63" cy="797.62" r="3.4" fill="#f30900"/><circle cx="207.23" cy="797.62" r="3.4" fill="#ff3900"/><circle cx="213.82" cy="797.62" r="3.4" fill="#ff3900"/><circle cx="220.42" cy="797.62" r="3.4" fill="#ff3900"/><circle cx="227.01" cy="797.62" r="3.4" fill="#ff3900"/><circle cx="233.61" cy="797.62" r="3.4" fill="#ff3900"/><circle cx="240.20" cy="797.62" r="3.4" fill="#ff6800"/><circle cx="246.80" cy="797.62" r="3.4" fill="#ff6800"/><circle cx="253.39" cy="797.62" r="3.4" fill="#ff6800"/><circle cx="259.99" cy="797.62" r="3.4" fill="#ff6800"/><circle cx="266.58" cy="797.62" r="3.4" fill="#ff6800"/><circle cx="273.18" cy="797.62" r="3.4" fill="#ff6800"/><circle cx="286.37" cy="797.62" r="3.4" fill="#ff6800"/><circle cx="292.96" cy="797.62" r="3.4" fill="#ff6800"/><circle cx="306.15" cy="797.62" r="3.4" fill="#ff9700"/><circle cx="332.53" cy="797.62" r="3.4" fill="#ff9700"/><circle cx="134.68" cy="790.79" r="3.4" fill="#800000"/><circle cx="141.28" cy="790.79" r="3.4" fill="#800000"/><circle cx="147.87" cy="790.79" r="3.4" fill="#b90000"/><circle cx="154.47" cy="790.79" r="3.4" fill="#b90000"/><circle cx="161.06" cy="790.79" r="3.4" fill="#b90000"/><circle cx="167.66" cy="790.79" r="3.4" fill="#f30900"/><circle cx="174.25" cy="790.79" r="3.4" fill="#f30900"/><circle cx="180.85" cy="790.79" r="3.4" fill="#ff3900"/><circle cx="187.44" cy="790.79" r="3.4" fill="#ff3900"/><circle cx="194.04" cy="790.79" r="3.4" fill="#ff3900"/><circle cx="200.63" cy="790.79" r="3.4" fill="#ff6800"/><circle cx="207.23" cy="790.79" r="3.4" fill="#ff6800"/><circle cx="213.82" cy="790.79" r="3.4" fill="#ff6800"/><circle cx="220.42" cy="790.79" r="3.4" fill="#ff6800"/><circle cx="227.01" cy="790.79" r="3.4" fill="#ff6800"/><circle cx="233.61" cy="790.79" r="3.4" fill="#ff9700"/><circle cx="240.20" cy="790.79" r="3.4" fill="#ff9700"/><circle cx="246.80" cy="790.79" r="3.4" fill="#ff9700"/><circle cx="253.39" cy="790.79" r="3.4" fill="#ff9700"/><circle cx="259.99" cy="790.79" r="3.4" fill="#ffc600"/><circle cx="266.58" cy="790.79" r="3.4" fill="#ff9700"/><circle cx="273.18" cy="790.79" r="3.4" fill="#ff6800"/><circle cx="279.77" cy="790.79" r="3.4" fill="#ff9700"/><circle cx="286.37" cy="790.79" r="3.4" fill="#ffc600"/><circle cx="292.96" cy="790.79" r="3.4" fill="#ff9700"/><circle cx="299.56" cy="790.79" r="3.4" fill="#ffc600"/><circle cx="306.15" cy="790.79" r="3.4" fill="#f7f600"/><circle cx="312.75" cy="790.79" r="3.4" fill="#ffc600"/><circle cx="325.94" cy="790.79" r="3.4" fill="#a5ff52"/><circle cx="141.28" cy="783.95" r="3.4" fill="#b90000"/><circle cx="147.87" cy="783.95" r="3.4" fill="#b90000"/><circle cx="154.47" cy="783.95" r="3.4" fill="#f30900"/><circle cx="161.06" cy="783.95" r="3.4" fill="#f30900"/><circle cx="167.66" cy="783.95" r="3.4" fill="#ff3900"/><circle cx="174.25" cy="783.95" r="3.4" fill="#ff3900"/><circle cx="180.85" cy="783.95" r="3.4" fill="#ff6800"/><circle cx="187.44" cy="783.95" r="3.4" fill="#ff6800"/><circle cx="194.04" cy="783.95" r="3.4" fill="#ff6800"/><circle cx="200.63" cy="783.95" r="3.4" fill="#ff9700"/><circle cx="207.23" cy="783.95" r="3.4" fill="#ff9700"/><circle cx="213.82" cy="783.95" r="3.4" fill="#ff9700"/><circle cx="220.42" cy="783.95" r="3.4" fill="#ff9700"/><circle cx="227.01" cy="783.95" r="3.4" fill="#ffc600"/><circle cx="233.61" cy="783.95" r="3.4" fill="#ffc600"/><circle cx="240.20" cy="783.95" r="3.4" fill="#f7f600"/><circle cx="246.80" cy="783.95" r="3.4" fill="#f7f600"/><circle cx="253.39" cy="783.95" r="3.4" fill="#f7f600"/><circle cx="259.99" cy="783.95" r="3.4" fill="#ceff29"/><circle cx="266.58" cy="783.95" r="3.4" fill="#f7f600"/><circle cx="273.18" cy="783.95" r="3.4" fill="#a5ff52"/><circle cx="279.77" cy="783.95" r="3.4" fill="#a5ff52"/><circle cx="286.37" cy="783.95" r="3.4" fill="#ceff29"/><circle cx="292.96" cy="783.95" r="3.4" fill="#ceff29"/><circle cx="299.56" cy="783.95" r="3.4" fill="#ceff29"/><circle cx="306.15" cy="783.95" r="3.4" fill="#7bff7b"/><circle cx="312.75" cy="783.95" r="3.4" fill="#a5ff52"/><circle cx="319.34" cy="783.95" r="3.4" fill="#ceff29"/><circle cx="325.94" cy="783.95" r="3.4" fill="#7bff7b"/><circle cx="372.10" cy="783.95" r="3.4" fill="#52ffa5"/><circle cx="378.69" cy="783.95" r="3.4" fill="#7bff7b"/><circle cx="385.29" cy="783.95" r="3.4" fill="#a5ff52"/><circle cx="147.87" cy="777.12" r="3.4" fill="#b90000"/><circle cx="154.47" cy="777.12" r="3.4" fill="#f30900"/><circle cx="161.06" cy="777.12" r="3.4" fill="#ff3900"/><circle cx="167.66" cy="777.12" r="3.4" fill="#ff3900"/><circle cx="174.25" cy="777.12" r="3.4" fill="#ff3900"/><circle cx="180.85" cy="777.12" r="3.4" fill="#ff6800"/><circle cx="187.44" cy="777.12" r="3.4" fill="#ff9700"/><circle cx="194.04" cy="777.12" r="3.4" fill="#ff9700"/><circle cx="200.63" cy="777.12" r="3.4" fill="#ffc600"/><circle cx="207.23" cy="777.12" r="3.4" fill="#ffc600"/><circle cx="213.82" cy="777.12" r="3.4" fill="#ffc600"/><circle cx="220.42" cy="777.12" r="3.4" fill="#f7f600"/><circle cx="227.01" cy="777.12" r="3.4" fill="#f7f600"/><circle cx="233.61" cy="777.12" r="3.4" fill="#f7f600"/><circle cx="240.20" cy="777.12" r="3.4" fill="#f7f600"/><circle cx="246.80" cy="777.12" r="3.4" fill="#f7f600"/><circle cx="253.39" cy="777.12" r="3.4" fill="#ceff29"/><circle cx="259.99" cy="777.12" r="3.4" fill="#ceff29"/><circle cx="266.58" cy="777.12" r="3.4" fill="#a5ff52"/><circle cx="273.18" cy="777.12" r="3.4" fill="#a5ff52"/><circle cx="279.77" cy="777.12" r="3.4" fill="#7bff7b"/><circle cx="286.37" cy="777.12" r="3.4" fill="#7bff7b"/><circle cx="292.96" cy="777.12" r="3.4" fill="#52ffa5"/><circle cx="299.56" cy="777.12" r="3.4" fill="#a5ff52"/><circle cx="306.15" cy="777.12" r="3.4" fill="#7bff7b"/><circle cx="312.75" cy="777.12" r="3.4" fill="#52ffa5"/><circle cx="319.34" cy="777.12" r="3.4" fill="#52ffa5"/><circle cx="325.94" cy="777.12" r="3.4" fill="#ceff29"/><circle cx="332.53" cy="777.12" r="3.4" fill="#00e6f7"/><circle cx="345.72" cy="777.12" r="3.4" fill="#7bff7b"/><circle cx="365.50" cy="777.12" r="3.4" fill="#7bff7b"/><circle cx="147.87" cy="770.29" r="3.4" fill="#f30900"/><circle cx="154.47" cy="770.29" r="3.4" fill="#ff3900"/><circle cx="161.06" cy="770.29" r="3.4" fill="#ff3900"/><circle cx="167.66" cy="770.29" r="3.4" fill="#ff6800"/><circle cx="174.25" cy="770.29" r="3.4" fill="#ff6800"/><circle cx="180.85" cy="770.29" r="3.4" fill="#ff6800"/><circle cx="187.44" cy="770.29" r="3.4" fill="#ffc600"/><circle cx="194.04" cy="770.29" r="3.4" fill="#ffc600"/><circle cx="200.63" cy="770.29" r="3.4" fill="#ffc600"/><circle cx="207.23" cy="770.29" r="3.4" fill="#f7f600"/><circle cx="213.82" cy="770.29" r="3.4" fill="#f7f600"/><circle cx="220.42" cy="770.29" r="3.4" fill="#ceff29"/><circle cx="227.01" cy="770.29" r="3.4" fill="#a5ff52"/><circle cx="233.61" cy="770.29" r="3.4" fill="#a5ff52"/><circle cx="240.20" cy="770.29" r="3.4" fill="#a5ff52"/><circle cx="246.80" cy="770.29" r="3.4" fill="#7bff7b"/><circle cx="253.39" cy="770.29" r="3.4" fill="#7bff7b"/><circle cx="259.99" cy="770.29" r="3.4" fill="#a5ff52"/><circle cx="266.58" cy="770.29" r="3.4" fill="#7bff7b"/><circle cx="273.18" cy="770.29" r="3.4" fill="#a5ff52"/><circle cx="279.77" cy="770.29" r="3.4" fill="#7bff7b"/><circle cx="286.37" cy="770.29" r="3.4" fill="#7bff7b"/><circle cx="292.96" cy="770.29" r="3.4" fill="#52ffa5"/><circle cx="299.56" cy="770.29" r="3.4" fill="#00e6f7"/><circle cx="306.15" cy="770.29" r="3.4" fill="#00b3ff"/><circle cx="312.75" cy="770.29" r="3.4" fill="#29ffce"/><circle cx="319.34" cy="770.29" r="3.4" fill="#52ffa5"/><circle cx="325.94" cy="770.29" r="3.4" fill="#29ffce"/><circle cx="332.53" cy="770.29" r="3.4" fill="#29ffce"/><circle cx="339.12" cy="770.29" r="3.4" fill="#004dff"/><circle cx="141.28" cy="763.46" r="3.4" fill="#b90000"/><circle cx="147.87" cy="763.46" r="3.4" fill="#b90000"/><circle cx="154.47" cy="763.46" r="3.4" fill="#f30900"/><circle cx="161.06" cy="763.46" r="3.4" fill="#f30900"/><circle cx="167.66" cy="763.46" r="3.4" fill="#ff6800"/><circle cx="174.25" cy="763.46" r="3.4" fill="#ff9700"/><circle cx="180.85" cy="763.46" r="3.4" fill="#ffc600"/><circle cx="187.44" cy="763.46" r="3.4" fill="#f7f600"/><circle cx="194.04" cy="763.46" r="3.4" fill="#f7f600"/><circle cx="200.63" cy="763.46" r="3.4" fill="#ceff29"/><circle cx="207.23" cy="763.46" r="3.4" fill="#a5ff52"/><circle cx="213.82" cy="763.46" r="3.4" fill="#a5ff52"/><circle cx="220.42" cy="763.46" r="3.4" fill="#a5ff52"/><circle cx="227.01" cy="763.46" r="3.4" fill="#7bff7b"/><circle cx="233.61" cy="763.46" r="3.4" fill="#7bff7b"/><circle cx="240.20" cy="763.46" r="3.4" fill="#52ffa5"/><circle cx="246.80" cy="763.46" r="3.4" fill="#52ffa5"/><circle cx="253.39" cy="763.46" r="3.4" fill="#52ffa5"/><circle cx="259.99" cy="763.46" r="3.4" fill="#29ffce"/><circle cx="266.58" cy="763.46" r="3.4" fill="#7bff7b"/><circle cx="273.18" cy="763.46" r="3.4" fill="#52ffa5"/><circle cx="279.77" cy="763.46" r="3.4" fill="#00e6f7"/><circle cx="286.37" cy="763.46" r="3.4" fill="#00e6f7"/><circle cx="292.96" cy="763.46" r="3.4" fill="#29ffce"/><circle cx="299.56" cy="763.46" r="3.4" fill="#0080ff"/><circle cx="306.15" cy="763.46" r="3.4" fill="#52ffa5"/><circle cx="312.75" cy="763.46" r="3.4" fill="#52ffa5"/><circle cx="319.34" cy="763.46" r="3.4" fill="#00e6f7"/><circle cx="325.94" cy="763.46" r="3.4" fill="#52ffa5"/><circle cx="332.53" cy="763.46" r="3.4" fill="#00e6f7"/><circle cx="352.31" cy="763.46" r="3.4" fill="#0000f3"/><circle cx="411.67" cy="763.46" r="3.4" fill="#00b3ff"/><circle cx="154.47" cy="756.63" r="3.4" fill="#f30900"/><circle cx="161.06" cy="756.63" r="3.4" fill="#ff6800"/><circle cx="167.66" cy="756.63" r="3.4" fill="#ff6800"/><circle cx="174.25" cy="756.63" r="3.4" fill="#ffc600"/><circle cx="180.85" cy="756.63" r="3.4" fill="#ffc600"/><circle cx="187.44" cy="756.63" r="3.4" fill="#f7f600"/><circle cx="194.04" cy="756.63" r="3.4" fill="#ceff29"/><circle cx="200.63" cy="756.63" r="3.4" fill="#a5ff52"/><circle cx="207.23" cy="756.63" r="3.4" fill="#7bff7b"/><circle cx="213.82" cy="756.63" r="3.4" fill="#7bff7b"/><circle cx="220.42" cy="756.63" r="3.4" fill="#7bff7b"/><circle cx="227.01" cy="756.63" r="3.4" fill="#7bff7b"/><circle cx="233.61" cy="756.63" r="3.4" fill="#52ffa5"/><circle cx="240.20" cy="756.63" r="3.4" fill="#52ffa5"/><circle cx="246.80" cy="756.63" r="3.4" fill="#29ffce"/><circle cx="253.39" cy="756.63" r="3.4" fill="#29ffce"/><circle cx="259.99" cy="756.63" r="3.4" fill="#29ffce"/><circle cx="266.58" cy="756.63" r="3.4" fill="#00e6f7"/><circle cx="273.18" cy="756.63" r="3.4" fill="#52ffa5"/><circle cx="279.77" cy="756.63" r="3.4" fill="#00e6f7"/><circle cx="286.37" cy="756.63" r="3.4" fill="#00e6f7"/><circle cx="292.96" cy="756.63" r="3.4" fill="#29ffce"/><circle cx="299.56" cy="756.63" r="3.4" fill="#00e6f7"/><circle cx="306.15" cy="756.63" r="3.4" fill="#00e6f7"/><circle cx="312.75" cy="756.63" r="3.4" fill="#00e6f7"/><circle cx="325.94" cy="756.63" r="3.4" fill="#0080ff"/><circle cx="332.53" cy="756.63" r="3.4" fill="#29ffce"/><circle cx="339.12" cy="756.63" r="3.4" fill="#00b3ff"/><circle cx="345.72" cy="756.63" r="3.4" fill="#00e6f7"/><circle cx="372.10" cy="756.63" r="3.4" fill="#0080ff"/><circle cx="391.88" cy="756.63" r="3.4" fill="#0080ff"/><circle cx="161.06" cy="749.79" r="3.4" fill="#ff3900"/><circle cx="167.66" cy="749.79" r="3.4" fill="#ff6800"/><circle cx="174.25" cy="749.79" r="3.4" fill="#ff9700"/><circle cx="180.85" cy="749.79" r="3.4" fill="#ffc600"/><circle cx="187.44" cy="749.79" r="3.4" fill="#f7f600"/><circle cx="194.04" cy="749.79" r="3.4" fill="#ceff29"/><circle cx="200.63" cy="749.79" r="3.4" fill="#a5ff52"/><circle cx="207.23" cy="749.79" r="3.4" fill="#7bff7b"/><circle cx="213.82" cy="749.79" r="3.4" fill="#52ffa5"/><circle cx="220.42" cy="749.79" r="3.4" fill="#52ffa5"/><circle cx="227.01" cy="749.79" r="3.4" fill="#00b3ff"/><circle cx="233.61" cy="749.79" r="3.4" fill="#29ffce"/><circle cx="240.20" cy="749.79" r="3.4" fill="#52ffa5"/><circle cx="246.80" cy="749.79" r="3.4" fill="#29ffce"/><circle cx="253.39" cy="749.79" r="3.4" fill="#00e6f7"/><circle cx="259.99" cy="749.79" r="3.4" fill="#00e6f7"/><circle cx="266.58" cy="749.79" r="3.4" fill="#29ffce"/><circle cx="273.18" cy="749.79" r="3.4" fill="#0080ff"/><circle cx="279.77" cy="749.79" r="3.4" fill="#0080ff"/><circle cx="286.37" cy="749.79" r="3.4" fill="#00b3ff"/><circle cx="292.96" cy="749.79" r="3.4" fill="#0080ff"/><circle cx="299.56" cy="749.79" r="3.4" fill="#29ffce"/><circle cx="306.15" cy="749.79" r="3.4" fill="#0080ff"/><circle cx="312.75" cy="749.79" r="3.4" fill="#00e6f7"/><circle cx="325.94" cy="749.79" r="3.4" fill="#00e6f7"/><circle cx="332.53" cy="749.79" r="3.4" fill="#29ffce"/><circle cx="345.72" cy="749.79" r="3.4" fill="#00e6f7"/><circle cx="352.31" cy="749.79" r="3.4" fill="#00e6f7"/><circle cx="154.47" cy="742.96" r="3.4" fill="#ff3900"/><circle cx="167.66" cy="742.96" r="3.4" fill="#ff9700"/><circle cx="174.25" cy="742.96" r="3.4" fill="#ffc600"/><circle cx="180.85" cy="742.96" r="3.4" fill="#f7f600"/><circle cx="187.44" cy="742.96" r="3.4" fill="#ceff29"/><circle cx="194.04" cy="742.96" r="3.4" fill="#a5ff52"/><circle cx="200.63" cy="742.96" r="3.4" fill="#7bff7b"/><circle cx="207.23" cy="742.96" r="3.4" fill="#52ffa5"/><circle cx="213.82" cy="742.96" r="3.4" fill="#29ffce"/><circle cx="220.42" cy="742.96" r="3.4" fill="#29ffce"/><circle cx="227.01" cy="742.96" r="3.4" fill="#00b3ff"/><circle cx="233.61" cy="742.96" r="3.4" fill="#29ffce"/><circle cx="240.20" cy="742.96" r="3.4" fill="#29ffce"/><circle cx="246.80" cy="742.96" r="3.4" fill="#29ffce"/><circle cx="253.39" cy="742.96" r="3.4" fill="#001aff"/><circle cx="259.99" cy="742.96" r="3.4" fill="#00b3ff"/><circle cx="266.58" cy="742.96" r="3.4" fill="#004dff"/><circle cx="273.18" cy="742.96" r="3.4" fill="#0080ff"/><circle cx="279.77" cy="742.96" r="3.4" fill="#52ffa5"/><circle cx="286.37" cy="742.96" r="3.4" fill="#29ffce"/><circle cx="292.96" cy="742.96" r="3.4" fill="#0080ff"/><circle cx="299.56" cy="742.96" r="3.4" fill="#004dff"/><circle cx="306.15" cy="742.96" r="3.4" fill="#00e6f7"/><circle cx="312.75" cy="742.96" r="3.4" fill="#004dff"/><circle cx="325.94" cy="742.96" r="3.4" fill="#0000f3"/><circle cx="332.53" cy="742.96" r="3.4" fill="#0080ff"/><circle cx="352.31" cy="742.96" r="3.4" fill="#00e6f7"/><circle cx="161.06" cy="736.13" r="3.4" fill="#ff6800"/><circle cx="167.66" cy="736.13" r="3.4" fill="#ffc600"/><circle cx="174.25" cy="736.13" r="3.4" fill="#ff9700"/><circle cx="180.85" cy="736.13" r="3.4" fill="#ceff29"/><circle cx="187.44" cy="736.13" r="3.4" fill="#a5ff52"/><circle cx="194.04" cy="736.13" r="3.4" fill="#7bff7b"/><circle cx="200.63" cy="736.13" r="3.4" fill="#52ffa5"/><circle cx="207.23" cy="736.13" r="3.4" fill="#00b3ff"/><circle cx="213.82" cy="736.13" r="3.4" fill="#29ffce"/><circle cx="220.42" cy="736.13" r="3.4" fill="#29ffce"/><circle cx="227.01" cy="736.13" r="3.4" fill="#29ffce"/><circle cx="233.61" cy="736.13" r="3.4" fill="#29ffce"/><circle cx="240.20" cy="736.13" r="3.4" fill="#52ffa5"/><circle cx="246.80" cy="736.13" r="3.4" fill="#52ffa5"/><circle cx="253.39" cy="736.13" r="3.4" fill="#00e6f7"/><circle cx="259.99" cy="736.13" r="3.4" fill="#0080ff"/><circle cx="266.58" cy="736.13" r="3.4" fill="#29ffce"/><circle cx="273.18" cy="736.13" r="3.4" fill="#0080ff"/><circle cx="279.77" cy="736.13" r="3.4" fill="#001aff"/><circle cx="286.37" cy="736.13" r="3.4" fill="#0080ff"/><circle cx="299.56" cy="736.13" r="3.4" fill="#001aff"/><circle cx="306.15" cy="736.13" r="3.4" fill="#00b3ff"/><circle cx="312.75" cy="736.13" r="3.4" fill="#7bff7b"/><circle cx="325.94" cy="736.13" r="3.4" fill="#001aff"/><circle cx="154.47" cy="729.30" r="3.4" fill="#f30900"/><circle cx="161.06" cy="729.30" r="3.4" fill="#f30900"/><circle cx="167.66" cy="729.30" r="3.4" fill="#f7f600"/><circle cx="174.25" cy="729.30" r="3.4" fill="#f7f600"/><circle cx="180.85" cy="729.30" r="3.4" fill="#a5ff52"/><circle cx="187.44" cy="729.30" r="3.4" fill="#52ffa5"/><circle cx="194.04" cy="729.30" r="3.4" fill="#7bff7b"/><circle cx="200.63" cy="729.30" r="3.4" fill="#29ffce"/><circle cx="207.23" cy="729.30" r="3.4" fill="#29ffce"/><circle cx="213.82" cy="729.30" r="3.4" fill="#0080ff"/><circle cx="220.42" cy="729.30" r="3.4" fill="#00b3ff"/><circle cx="227.01" cy="729.30" r="3.4" fill="#00b3ff"/><circle cx="233.61" cy="729.30" r="3.4" fill="#0080ff"/><circle cx="240.20" cy="729.30" r="3.4" fill="#004dff"/><circle cx="246.80" cy="729.30" r="3.4" fill="#00e6f7"/><circle cx="253.39" cy="729.30" r="3.4" fill="#29ffce"/><circle cx="259.99" cy="729.30" r="3.4" fill="#001aff"/><circle cx="266.58" cy="729.30" r="3.4" fill="#004dff"/><circle cx="273.18" cy="729.30" r="3.4" fill="#00e6f7"/><circle cx="279.77" cy="729.30" r="3.4" fill="#0080ff"/><circle cx="286.37" cy="729.30" r="3.4" fill="#0080ff"/><circle cx="306.15" cy="729.30" r="3.4" fill="#004dff"/><circle cx="312.75" cy="729.30" r="3.4" fill="#00e6f7"/><circle cx="167.66" cy="722.47" r="3.4" fill="#ff6800"/><circle cx="174.25" cy="722.47" r="3.4" fill="#ffc600"/><circle cx="180.85" cy="722.47" r="3.4" fill="#29ffce"/><circle cx="187.44" cy="722.47" r="3.4" fill="#7bff7b"/><circle cx="194.04" cy="722.47" r="3.4" fill="#00b3ff"/><circle cx="200.63" cy="722.47" r="3.4" fill="#29ffce"/><circle cx="207.23" cy="722.47" r="3.4" fill="#00b3ff"/><circle cx="213.82" cy="722.47" r="3.4" fill="#001aff"/><circle cx="220.42" cy="722.47" r="3.4" fill="#0080ff"/><circle cx="227.01" cy="722.47" r="3.4" fill="#0080ff"/><circle cx="233.61" cy="722.47" r="3.4" fill="#001aff"/><circle cx="240.20" cy="722.47" r="3.4" fill="#00b3ff"/><circle cx="246.80" cy="722.47" r="3.4" fill="#29ffce"/><circle cx="253.39" cy="722.47" r="3.4" fill="#0000f3"/><circle cx="259.99" cy="722.47" r="3.4" fill="#004dff"/><circle cx="266.58" cy="722.47" r="3.4" fill="#0080ff"/><circle cx="273.18" cy="722.47" r="3.4" fill="#0080ff"/><circle cx="286.37" cy="722.47" r="3.4" fill="#004dff"/><circle cx="306.15" cy="722.47" r="3.4" fill="#000080"/><circle cx="167.66" cy="715.63" r="3.4" fill="#ffc600"/><circle cx="174.25" cy="715.63" r="3.4" fill="#ff9700"/><circle cx="180.85" cy="715.63" r="3.4" fill="#a5ff52"/><circle cx="187.44" cy="715.63" r="3.4" fill="#7bff7b"/><circle cx="194.04" cy="715.63" r="3.4" fill="#29ffce"/><circle cx="200.63" cy="715.63" r="3.4" fill="#52ffa5"/><circle cx="207.23" cy="715.63" r="3.4" fill="#0080ff"/><circle cx="213.82" cy="715.63" r="3.4" fill="#00e6f7"/><circle cx="220.42" cy="715.63" r="3.4" fill="#004dff"/><circle cx="227.01" cy="715.63" r="3.4" fill="#0080ff"/><circle cx="233.61" cy="715.63" r="3.4" fill="#00b3ff"/><circle cx="240.20" cy="715.63" r="3.4" fill="#00e6f7"/><circle cx="246.80" cy="715.63" r="3.4" fill="#00b3ff"/><circle cx="253.39" cy="715.63" r="3.4" fill="#004dff"/><circle cx="259.99" cy="715.63" r="3.4" fill="#29ffce"/><circle cx="266.58" cy="715.63" r="3.4" fill="#7bff7b"/><circle cx="273.18" cy="715.63" r="3.4" fill="#0000f3"/><circle cx="279.77" cy="715.63" r="3.4" fill="#29ffce"/><circle cx="325.94" cy="715.63" r="3.4" fill="#004dff"/><circle cx="339.12" cy="715.63" r="3.4" fill="#00e6f7"/><circle cx="167.66" cy="708.80" r="3.4" fill="#ff9700"/><circle cx="174.25" cy="708.80" r="3.4" fill="#52ffa5"/><circle cx="180.85" cy="708.80" r="3.4" fill="#52ffa5"/><circle cx="187.44" cy="708.80" r="3.4" fill="#7bff7b"/><circle cx="194.04" cy="708.80" r="3.4" fill="#29ffce"/><circle cx="200.63" cy="708.80" r="3.4" fill="#29ffce"/><circle cx="207.23" cy="708.80" r="3.4" fill="#29ffce"/><circle cx="213.82" cy="708.80" r="3.4" fill="#00b3ff"/><circle cx="220.42" cy="708.80" r="3.4" fill="#0000f3"/><circle cx="227.01" cy="708.80" r="3.4" fill="#0000f3"/><circle cx="233.61" cy="708.80" r="3.4" fill="#00b3ff"/><circle cx="240.20" cy="708.80" r="3.4" fill="#00e6f7"/><circle cx="246.80" cy="708.80" r="3.4" fill="#a5ff52"/><circle cx="253.39" cy="708.80" r="3.4" fill="#00e6f7"/><circle cx="259.99" cy="708.80" r="3.4" fill="#0000f3"/><circle cx="266.58" cy="708.80" r="3.4" fill="#00b3ff"/><circle cx="273.18" cy="708.80" r="3.4" fill="#00b3ff"/><circle cx="286.37" cy="708.80" r="3.4" fill="#000080"/><circle cx="306.15" cy="708.80" r="3.4" fill="#004dff"/><circle cx="319.34" cy="708.80" r="3.4" fill="#0080ff"/><circle cx="167.66" cy="701.97" r="3.4" fill="#ff9700"/><circle cx="174.25" cy="701.97" r="3.4" fill="#ceff29"/><circle cx="180.85" cy="701.97" r="3.4" fill="#f7f600"/><circle cx="187.44" cy="701.97" r="3.4" fill="#29ffce"/><circle cx="194.04" cy="701.97" r="3.4" fill="#00e6f7"/><circle cx="200.63" cy="701.97" r="3.4" fill="#004dff"/><circle cx="207.23" cy="701.97" r="3.4" fill="#004dff"/><circle cx="213.82" cy="701.97" r="3.4" fill="#0080ff"/><circle cx="220.42" cy="701.97" r="3.4" fill="#00e6f7"/><circle cx="227.01" cy="701.97" r="3.4" fill="#00b3ff"/><circle cx="233.61" cy="701.97" r="3.4" fill="#004dff"/><circle cx="240.20" cy="701.97" r="3.4" fill="#004dff"/><circle cx="246.80" cy="701.97" r="3.4" fill="#00e6f7"/><circle cx="253.39" cy="701.97" r="3.4" fill="#00e6f7"/><circle cx="259.99" cy="701.97" r="3.4" fill="#00e6f7"/><circle cx="286.37" cy="701.97" r="3.4" fill="#0080ff"/><circle cx="306.15" cy="701.97" r="3.4" fill="#29ffce"/><circle cx="339.12" cy="701.97" r="3.4" fill="#0000f3"/><circle cx="174.25" cy="695.14" r="3.4" fill="#52ffa5"/><circle cx="180.85" cy="695.14" r="3.4" fill="#a5ff52"/><circle cx="187.44" cy="695.14" r="3.4" fill="#0080ff"/><circle cx="194.04" cy="695.14" r="3.4" fill="#7bff7b"/><circle cx="200.63" cy="695.14" r="3.4" fill="#29ffce"/><circle cx="207.23" cy="695.14" r="3.4" fill="#00e6f7"/><circle cx="213.82" cy="695.14" r="3.4" fill="#00e6f7"/><circle cx="220.42" cy="695.14" r="3.4" fill="#0080ff"/><circle cx="227.01" cy="695.14" r="3.4" fill="#29ffce"/><circle cx="233.61" cy="695.14" r="3.4" fill="#001aff"/><circle cx="240.20" cy="695.14" r="3.4" fill="#0000f3"/><circle cx="246.80" cy="695.14" r="3.4" fill="#29ffce"/><circle cx="266.58" cy="695.14" r="3.4" fill="#0000f3"/><circle cx="273.18" cy="695.14" r="3.4" fill="#0000f3"/><circle cx="332.53" cy="695.14" r="3.4" fill="#00e6f7"/><circle cx="174.25" cy="688.31" r="3.4" fill="#ceff29"/><circle cx="180.85" cy="688.31" r="3.4" fill="#ceff29"/><circle cx="187.44" cy="688.31" r="3.4" fill="#00e6f7"/><circle cx="194.04" cy="688.31" r="3.4" fill="#004dff"/><circle cx="200.63" cy="688.31" r="3.4" fill="#001aff"/><circle cx="207.23" cy="688.31" r="3.4" fill="#00b3ff"/><circle cx="213.82" cy="688.31" r="3.4" fill="#001aff"/><circle cx="220.42" cy="688.31" r="3.4" fill="#29ffce"/><circle cx="227.01" cy="688.31" r="3.4" fill="#0080ff"/><circle cx="233.61" cy="688.31" r="3.4" fill="#00b3ff"/><circle cx="240.20" cy="688.31" r="3.4" fill="#000080"/><circle cx="246.80" cy="688.31" r="3.4" fill="#000080"/><circle cx="253.39" cy="688.31" r="3.4" fill="#00e6f7"/><circle cx="259.99" cy="688.31" r="3.4" fill="#0000b9"/><circle cx="279.77" cy="688.31" r="3.4" fill="#0000f3"/><circle cx="312.75" cy="688.31" r="3.4" fill="#0000f3"/><circle cx="174.25" cy="681.47" r="3.4" fill="#29ffce"/><circle cx="180.85" cy="681.47" r="3.4" fill="#ffc600"/><circle cx="187.44" cy="681.47" r="3.4" fill="#7bff7b"/><circle cx="194.04" cy="681.47" r="3.4" fill="#0080ff"/><circle cx="200.63" cy="681.47" r="3.4" fill="#00b3ff"/><circle cx="207.23" cy="681.47" r="3.4" fill="#00b3ff"/><circle cx="213.82" cy="681.47" r="3.4" fill="#00b3ff"/><circle cx="220.42" cy="681.47" r="3.4" fill="#0080ff"/><circle cx="227.01" cy="681.47" r="3.4" fill="#7bff7b"/><circle cx="240.20" cy="681.47" r="3.4" fill="#52ffa5"/><circle cx="246.80" cy="681.47" r="3.4" fill="#52ffa5"/><circle cx="253.39" cy="681.47" r="3.4" fill="#004dff"/><circle cx="259.99" cy="681.47" r="3.4" fill="#29ffce"/><circle cx="266.58" cy="681.47" r="3.4" fill="#004dff"/><circle cx="273.18" cy="681.47" r="3.4" fill="#001aff"/><circle cx="167.66" cy="674.64" r="3.4" fill="#ff9700"/><circle cx="174.25" cy="674.64" r="3.4" fill="#ceff29"/><circle cx="180.85" cy="674.64" r="3.4" fill="#29ffce"/><circle cx="187.44" cy="674.64" r="3.4" fill="#52ffa5"/><circle cx="194.04" cy="674.64" r="3.4" fill="#00e6f7"/><circle cx="200.63" cy="674.64" r="3.4" fill="#52ffa5"/><circle cx="207.23" cy="674.64" r="3.4" fill="#7bff7b"/><circle cx="213.82" cy="674.64" r="3.4" fill="#0080ff"/><circle cx="220.42" cy="674.64" r="3.4" fill="#004dff"/><circle cx="227.01" cy="674.64" r="3.4" fill="#000080"/><circle cx="233.61" cy="674.64" r="3.4" fill="#00e6f7"/><circle cx="240.20" cy="674.64" r="3.4" fill="#00e6f7"/><circle cx="246.80" cy="674.64" r="3.4" fill="#000080"/><circle cx="253.39" cy="674.64" r="3.4" fill="#001aff"/><circle cx="259.99" cy="674.64" r="3.4" fill="#004dff"/><circle cx="167.66" cy="667.81" r="3.4" fill="#ffc600"/><circle cx="187.44" cy="667.81" r="3.4" fill="#00b3ff"/><circle cx="194.04" cy="667.81" r="3.4" fill="#29ffce"/><circle cx="200.63" cy="667.81" r="3.4" fill="#7bff7b"/><circle cx="207.23" cy="667.81" r="3.4" fill="#004dff"/><circle cx="213.82" cy="667.81" r="3.4" fill="#52ffa5"/><circle cx="220.42" cy="667.81" r="3.4" fill="#004dff"/><circle cx="227.01" cy="667.81" r="3.4" fill="#00e6f7"/><circle cx="233.61" cy="667.81" r="3.4" fill="#00b3ff"/><circle cx="240.20" cy="667.81" r="3.4" fill="#004dff"/><circle cx="246.80" cy="667.81" r="3.4" fill="#00b3ff"/><circle cx="266.58" cy="667.81" r="3.4" fill="#00b3ff"/><circle cx="180.85" cy="660.98" r="3.4" fill="#00e6f7"/><circle cx="187.44" cy="660.98" r="3.4" fill="#00e6f7"/><circle cx="194.04" cy="660.98" r="3.4" fill="#52ffa5"/><circle cx="200.63" cy="660.98" r="3.4" fill="#001aff"/><circle cx="207.23" cy="660.98" r="3.4" fill="#00e6f7"/><circle cx="213.82" cy="660.98" r="3.4" fill="#00b3ff"/><circle cx="220.42" cy="660.98" r="3.4" fill="#00b3ff"/><circle cx="227.01" cy="660.98" r="3.4" fill="#0080ff"/><circle cx="233.61" cy="660.98" r="3.4" fill="#004dff"/><circle cx="246.80" cy="660.98" r="3.4" fill="#52ffa5"/><circle cx="174.25" cy="654.15" r="3.4" fill="#7bff7b"/><circle cx="180.85" cy="654.15" r="3.4" fill="#00b3ff"/><circle cx="187.44" cy="654.15" r="3.4" fill="#004dff"/><circle cx="194.04" cy="654.15" r="3.4" fill="#52ffa5"/><circle cx="200.63" cy="654.15" r="3.4" fill="#00e6f7"/><circle cx="207.23" cy="654.15" r="3.4" fill="#004dff"/><circle cx="220.42" cy="654.15" r="3.4" fill="#0000f3"/><circle cx="227.01" cy="654.15" r="3.4" fill="#001aff"/><circle cx="240.20" cy="654.15" r="3.4" fill="#0080ff"/><circle cx="246.80" cy="654.15" r="3.4" fill="#29ffce"/><circle cx="180.85" cy="647.31" r="3.4" fill="#7bff7b"/><circle cx="187.44" cy="647.31" r="3.4" fill="#7bff7b"/><circle cx="194.04" cy="647.31" r="3.4" fill="#52ffa5"/><circle cx="200.63" cy="647.31" r="3.4" fill="#0080ff"/><circle cx="213.82" cy="647.31" r="3.4" fill="#001aff"/><circle cx="240.20" cy="647.31" r="3.4" fill="#7bff7b"/><circle cx="174.25" cy="640.48" r="3.4" fill="#29ffce"/><circle cx="194.04" cy="640.48" r="3.4" fill="#7bff7b"/><circle cx="200.63" cy="640.48" r="3.4" fill="#0080ff"/><circle cx="213.82" cy="640.48" r="3.4" fill="#a5ff52"/><circle cx="180.85" cy="633.65" r="3.4" fill="#ceff29"/><circle cx="187.44" cy="633.65" r="3.4" fill="#00b3ff"/><circle cx="194.04" cy="633.65" r="3.4" fill="#0080ff"/><circle cx="207.23" cy="633.65" r="3.4" fill="#00e6f7"/><circle cx="220.42" cy="633.65" r="3.4" fill="#52ffa5"/><circle cx="227.01" cy="633.65" r="3.4" fill="#0000f3"/><circle cx="194.04" cy="626.82" r="3.4" fill="#52ffa5"/><circle cx="200.63" cy="626.82" r="3.4" fill="#004dff"/><circle cx="213.82" cy="626.82" r="3.4" fill="#0080ff"/><circle cx="180.85" cy="619.99" r="3.4" fill="#ceff29"/><circle cx="187.44" cy="619.99" r="3.4" fill="#0080ff"/><circle cx="194.04" cy="619.99" r="3.4" fill="#00e6f7"/><circle cx="200.63" cy="619.99" r="3.4" fill="#004dff"/><circle cx="259.99" cy="619.99" r="3.4" fill="#0000b9"/><circle cx="180.85" cy="613.15" r="3.4" fill="#7bff7b"/><circle cx="187.44" cy="613.15" r="3.4" fill="#0080ff"/><circle cx="194.04" cy="613.15" r="3.4" fill="#004dff"/><circle cx="200.63" cy="613.15" r="3.4" fill="#00b3ff"/><circle cx="213.82" cy="613.15" r="3.4" fill="#0080ff"/><circle cx="220.42" cy="613.15" r="3.4" fill="#29ffce"/><circle cx="194.04" cy="606.32" r="3.4" fill="#004dff"/><circle cx="207.23" cy="606.32" r="3.4" fill="#00b3ff"/><circle cx="213.82" cy="606.32" r="3.4" fill="#00e6f7"/><circle cx="220.42" cy="606.32" r="3.4" fill="#29ffce"/><circle cx="187.44" cy="599.49" r="3.4" fill="#29ffce"/><circle cx="200.63" cy="599.49" r="3.4" fill="#004dff"/><circle cx="213.82" cy="599.49" r="3.4" fill="#00b3ff"/><circle cx="200.63" cy="592.66" r="3.4" fill="#29ffce"/><circle cx="233.61" cy="592.66" r="3.4" fill="#000080"/><circle cx="207.23" cy="585.83" r="3.4" fill="#004dff"/><circle cx="200.63" cy="578.99" r="3.4" fill="#7bff7b"/><circle cx="200.63" cy="572.16" r="3.4" fill="#001aff"/><circle cx="200.63" cy="565.33" r="3.4" fill="#0000f3"/><circle cx="194.04" cy="551.67" r="3.4" fill="#004dff"/><circle cx="180.85" cy="524.34" r="3.4" fill="#00e6f7"/><circle cx="187.44" cy="524.34" r="3.4" fill="#0000f3"/><circle cx="207.23" cy="524.34" r="3.4" fill="#0000f3"/></g>
<rect x="101.60" y="455.90" width="344.00" height="354.90" fill="none" stroke="#000" stroke-width="1.56"/>
<line x1="108.00" y1="810.80" x2="108.00" y2="817.60" stroke="#000" stroke-width="1.56"/>
<text x="-0.750" y="0" transform="translate(103.07 839.80) scale(1.0128 1)" font-family="Liberation Sans, sans-serif" font-size="20.4">0</text>
<line x1="239.90" y1="810.80" x2="239.90" y2="817.60" stroke="#000" stroke-width="1.56"/>
<text x="-1.500" y="0" transform="translate(229.66 839.80) scale(1.0491 1)" font-family="Liberation Sans, sans-serif" font-size="20.4">10</text>
<line x1="371.80" y1="810.80" x2="371.80" y2="817.60" stroke="#000" stroke-width="1.56"/>
<text x="-1.000" y="0" transform="translate(360.81 839.80) scale(1.0599 1)" font-family="Liberation Sans, sans-serif" font-size="20.4">20</text>
<line x1="94.80" y1="804.40" x2="101.60" y2="804.40" stroke="#000" stroke-width="1.56"/>
<text x="-0.750" y="0" transform="translate(58.18 811.90) scale(1.0607 1)" font-family="Liberation Sans, sans-serif" font-size="20.4">0.0</text>
<line x1="94.80" y1="736.08" x2="101.60" y2="736.08" stroke="#000" stroke-width="1.56"/>
<text x="-0.750" y="0" transform="translate(58.18 743.58) scale(1.0472 1)" font-family="Liberation Sans, sans-serif" font-size="20.4">0.2</text>
<line x1="94.80" y1="667.76" x2="101.60" y2="667.76" stroke="#000" stroke-width="1.56"/>
<text x="-0.750" y="0" transform="translate(58.18 675.26) scale(1.0602 1)" font-family="Liberation Sans, sans-serif" font-size="20.4">0.4</text>
<line x1="94.80" y1="599.44" x2="101.60" y2="599.44" stroke="#000" stroke-width="1.56"/>
<text x="-0.750" y="0" transform="translate(58.18 606.94) scale(1.0657 1)" font-family="Liberation Sans, sans-serif" font-size="20.4">0.6</text>
<line x1="94.80" y1="531.12" x2="101.60" y2="531.12" stroke="#000" stroke-width="1.56"/>
<text x="-0.750" y="0" transform="translate(58.18 538.62) scale(1.0607 1)" font-family="Liberation Sans, sans-serif" font-size="20.4">0.8</text>
<line x1="94.80" y1="462.80" x2="101.60" y2="462.80" stroke="#000" stroke-width="1.56"/>
<text x="-1.500" y="0" transform="translate(59.05 470.30) scale(1.0577 1)" font-family="Liberation Sans, sans-serif" font-size="20.4">1.0</text>
<text x="-1.625" y="0" transform="translate(143.10 869.10) scale(1.0919 1)" font-family="Liberation Sans, sans-serif" font-size="20.4">LPD × Density, Å × g cm</text>
<text x="-0.750" y="0" transform="translate(385.10 862.10) scale(1.2101 1)" font-family="Liberation Sans, sans-serif" font-size="14.3">−3</text>
<text x="-0.500" y="0" transform="translate(43.70 790.55) rotate(-90) scale(1.0901 1)" font-family="Liberation Sans, sans-serif" font-size="20.4">Thermal Conductivity, Wm</text>
<text x="-0.750" y="0" transform="translate(36.80 530.85) rotate(-90) scale(1.2034 1)" font-family="Liberation Sans, sans-serif" font-size="14.3">−1</text>
<text x="-1.625" y="0" transform="translate(43.70 509.25) rotate(-90) scale(0.9032 1)" font-family="Liberation Sans, sans-serif" font-size="20.4">K</text>
<text x="-0.750" y="0" transform="translate(36.80 496.95) rotate(-90) scale(1.1697 1)" font-family="Liberation Sans, sans-serif" font-size="14.3">−1</text>
<rect x="467.20" y="455.80" width="17.80" height="355.40" fill="url(#jet)" stroke="#000" stroke-width="1.56"/>
<line x1="485.00" y1="808.68" x2="491.80" y2="808.68" stroke="#000" stroke-width="1.56"/>
<text x="-0.750" y="0" transform="translate(499.85 816.08) scale(1.0590 1)" font-family="Liberation Sans, sans-serif" font-size="20.4">0.55</text>
<line x1="485.00" y1="768.12" x2="491.80" y2="768.12" stroke="#000" stroke-width="1.56"/>
<text x="-0.750" y="0" transform="translate(499.85 775.52) scale(1.0689 1)" font-family="Liberation Sans, sans-serif" font-size="20.4">0.60</text>
<line x1="485.00" y1="727.56" x2="491.80" y2="727.56" stroke="#000" stroke-width="1.56"/>
<text x="-0.750" y="0" transform="translate(499.85 734.96) scale(1.0590 1)" font-family="Liberation Sans, sans-serif" font-size="20.4">0.65</text>
<line x1="485.00" y1="687.00" x2="491.80" y2="687.00" stroke="#000" stroke-width="1.56"/>
<text x="-0.750" y="0" transform="translate(499.85 694.40) scale(1.0689 1)" font-family="Liberation Sans, sans-serif" font-size="20.4">0.70</text>
<line x1="485.00" y1="646.44" x2="491.80" y2="646.44" stroke="#000" stroke-width="1.56"/>
<text x="-0.750" y="0" transform="translate(499.85 653.84) scale(1.0590 1)" font-family="Liberation Sans, sans-serif" font-size="20.4">0.75</text>
<line x1="485.00" y1="605.88" x2="491.80" y2="605.88" stroke="#000" stroke-width="1.56"/>
<text x="-0.750" y="0" transform="translate(499.85 613.28) scale(1.0689 1)" font-family="Liberation Sans, sans-serif" font-size="20.4">0.80</text>
<line x1="485.00" y1="565.32" x2="491.80" y2="565.32" stroke="#000" stroke-width="1.56"/>
<text x="-0.750" y="0" transform="translate(499.85 572.72) scale(1.0590 1)" font-family="Liberation Sans, sans-serif" font-size="20.4">0.85</text>
<line x1="485.00" y1="524.76" x2="491.80" y2="524.76" stroke="#000" stroke-width="1.56"/>
<text x="-0.750" y="0" transform="translate(499.85 532.16) scale(1.0689 1)" font-family="Liberation Sans, sans-serif" font-size="20.4">0.90</text>
<line x1="485.00" y1="484.20" x2="491.80" y2="484.20" stroke="#000" stroke-width="1.56"/>
<text x="-0.750" y="0" transform="translate(499.85 491.60) scale(1.0590 1)" font-family="Liberation Sans, sans-serif" font-size="20.4">0.95</text>
<text x="-1.250" y="0" transform="translate(1.60 473.60) scale(1.0050 1)" font-family="Liberation Sans, sans-serif" font-size="31" font-weight="bold">c</text>
<g><circle cx="761.12" cy="805.05" r="3.4" fill="#ff9700"/><circle cx="767.79" cy="805.05" r="3.4" fill="#ff9700"/><circle cx="761.12" cy="798.15" r="3.4" fill="#f30900"/><circle cx="767.79" cy="798.15" r="3.4" fill="#ff3900"/><circle cx="774.45" cy="798.15" r="3.4" fill="#ff6800"/><circle cx="781.12" cy="798.15" r="3.4" fill="#ff9700"/><circle cx="787.78" cy="798.15" r="3.4" fill="#ff9700"/><circle cx="794.45" cy="798.15" r="3.4" fill="#ffc600"/><circle cx="801.12" cy="798.15" r="3.4" fill="#ffc600"/><circle cx="807.78" cy="798.15" r="3.4" fill="#ffc600"/><circle cx="814.44" cy="798.15" r="3.4" fill="#ffc600"/><circle cx="821.11" cy="798.15" r="3.4" fill="#ceff29"/><circle cx="827.77" cy="798.15" r="3.4" fill="#a5ff52"/><circle cx="834.44" cy="798.15" r="3.4" fill="#a5ff52"/><circle cx="841.11" cy="798.15" r="3.4" fill="#a5ff52"/><circle cx="847.77" cy="798.15" r="3.4" fill="#7bff7b"/><circle cx="854.43" cy="798.15" r="3.4" fill="#7bff7b"/><circle cx="861.10" cy="798.15" r="3.4" fill="#52ffa5"/><circle cx="867.76" cy="798.15" r="3.4" fill="#00e6f7"/><circle cx="874.43" cy="798.15" r="3.4" fill="#29ffce"/><circle cx="881.09" cy="798.15" r="3.4" fill="#00b3ff"/><circle cx="887.76" cy="798.15" r="3.4" fill="#00e6f7"/><circle cx="894.42" cy="798.15" r="3.4" fill="#00e6f7"/><circle cx="907.75" cy="798.15" r="3.4" fill="#00e6f7"/><circle cx="914.42" cy="798.15" r="3.4" fill="#00b3ff"/><circle cx="927.75" cy="798.15" r="3.4" fill="#0080ff"/><circle cx="954.41" cy="798.15" r="3.4" fill="#0080ff"/><circle cx="754.46" cy="791.25" r="3.4" fill="#b90000"/><circle cx="761.12" cy="791.25" r="3.4" fill="#f30900"/><circle cx="767.79" cy="791.25" r="3.4" fill="#ff3900"/><circle cx="774.45" cy="791.25" r="3.4" fill="#ff6800"/><circle cx="781.12" cy="791.25" r="3.4" fill="#ff9700"/><circle cx="787.78" cy="791.25" r="3.4" fill="#ff9700"/><circle cx="794.45" cy="791.25" r="3.4" fill="#ffc600"/><circle cx="801.12" cy="791.25" r="3.4" fill="#ffc600"/><circle cx="807.78" cy="791.25" r="3.4" fill="#f7f600"/><circle cx="814.44" cy="791.25" r="3.4" fill="#f7f600"/><circle cx="821.11" cy="791.25" r="3.4" fill="#a5ff52"/><circle cx="827.77" cy="791.25" r="3.4" fill="#a5ff52"/><circle cx="834.44" cy="791.25" r="3.4" fill="#a5ff52"/><circle cx="841.11" cy="791.25" r="3.4" fill="#a5ff52"/><circle cx="847.77" cy="791.25" r="3.4" fill="#7bff7b"/><circle cx="854.43" cy="791.25" r="3.4" fill="#7bff7b"/><circle cx="861.10" cy="791.25" r="3.4" fill="#7bff7b"/><circle cx="867.76" cy="791.25" r="3.4" fill="#52ffa5"/><circle cx="874.43" cy="791.25" r="3.4" fill="#52ffa5"/><circle cx="881.09" cy="791.25" r="3.4" fill="#29ffce"/><circle cx="887.76" cy="791.25" r="3.4" fill="#29ffce"/><circle cx="894.42" cy="791.25" r="3.4" fill="#52ffa5"/><circle cx="901.09" cy="791.25" r="3.4" fill="#00e6f7"/><circle cx="907.75" cy="791.25" r="3.4" fill="#00e6f7"/><circle cx="914.42" cy="791.25" r="3.4" fill="#29ffce"/><circle cx="921.08" cy="791.25" r="3.4" fill="#0080ff"/><circle cx="927.75" cy="791.25" r="3.4" fill="#0080ff"/><circle cx="934.41" cy="791.25" r="3.4" fill="#004dff"/><circle cx="947.74" cy="791.25" r="3.4" fill="#004dff"/><circle cx="761.12" cy="784.35" r="3.4" fill="#b90000"/><circle cx="767.79" cy="784.35" r="3.4" fill="#ff3900"/><circle cx="774.45" cy="784.35" r="3.4" fill="#ff3900"/><circle cx="781.12" cy="784.35" r="3.4" fill="#ff6800"/><circle cx="787.78" cy="784.35" r="3.4" fill="#ff9700"/><circle cx="794.45" cy="784.35" r="3.4" fill="#ff9700"/><circle cx="801.12" cy="784.35" r="3.4" fill="#ffc600"/><circle cx="807.78" cy="784.35" r="3.4" fill="#f7f600"/><circle cx="814.44" cy="784.35" r="3.4" fill="#f7f600"/><circle cx="821.11" cy="784.35" r="3.4" fill="#ceff29"/><circle cx="827.77" cy="784.35" r="3.4" fill="#a5ff52"/><circle cx="834.44" cy="784.35" r="3.4" fill="#a5ff52"/><circle cx="841.11" cy="784.35" r="3.4" fill="#7bff7b"/><circle cx="847.77" cy="784.35" r="3.4" fill="#7bff7b"/><circle cx="854.43" cy="784.35" r="3.4" fill="#52ffa5"/><circle cx="861.10" cy="784.35" r="3.4" fill="#52ffa5"/><circle cx="867.76" cy="784.35" r="3.4" fill="#29ffce"/><circle cx="874.43" cy="784.35" r="3.4" fill="#00e6f7"/><circle cx="881.09" cy="784.35" r="3.4" fill="#00e6f7"/><circle cx="887.76" cy="784.35" r="3.4" fill="#00e6f7"/><circle cx="894.42" cy="784.35" r="3.4" fill="#00b3ff"/><circle cx="901.09" cy="784.35" r="3.4" fill="#0080ff"/><circle cx="907.75" cy="784.35" r="3.4" fill="#0080ff"/><circle cx="914.42" cy="784.35" r="3.4" fill="#004dff"/><circle cx="921.08" cy="784.35" r="3.4" fill="#0080ff"/><circle cx="927.75" cy="784.35" r="3.4" fill="#004dff"/><circle cx="934.41" cy="784.35" r="3.4" fill="#004dff"/><circle cx="941.08" cy="784.35" r="3.4" fill="#004dff"/><circle cx="947.74" cy="784.35" r="3.4" fill="#004dff"/><circle cx="994.40" cy="784.35" r="3.4" fill="#001aff"/><circle cx="1001.06" cy="784.35" r="3.4" fill="#001aff"/><circle cx="1007.73" cy="784.35" r="3.4" fill="#001aff"/><circle cx="767.79" cy="777.45" r="3.4" fill="#ff3900"/><circle cx="774.45" cy="777.45" r="3.4" fill="#ff3900"/><circle cx="781.12" cy="777.45" r="3.4" fill="#ff6800"/><circle cx="787.78" cy="777.45" r="3.4" fill="#ff9700"/><circle cx="794.45" cy="777.45" r="3.4" fill="#ff9700"/><circle cx="801.12" cy="777.45" r="3.4" fill="#ffc600"/><circle cx="807.78" cy="777.45" r="3.4" fill="#f7f600"/><circle cx="814.44" cy="777.45" r="3.4" fill="#ceff29"/><circle cx="821.11" cy="777.45" r="3.4" fill="#ceff29"/><circle cx="827.77" cy="777.45" r="3.4" fill="#a5ff52"/><circle cx="834.44" cy="777.45" r="3.4" fill="#7bff7b"/><circle cx="841.11" cy="777.45" r="3.4" fill="#7bff7b"/><circle cx="847.77" cy="777.45" r="3.4" fill="#52ffa5"/><circle cx="854.43" cy="777.45" r="3.4" fill="#52ffa5"/><circle cx="861.10" cy="777.45" r="3.4" fill="#29ffce"/><circle cx="867.76" cy="777.45" r="3.4" fill="#29ffce"/><circle cx="874.43" cy="777.45" r="3.4" fill="#00e6f7"/><circle cx="881.09" cy="777.45" r="3.4" fill="#00e6f7"/><circle cx="887.76" cy="777.45" r="3.4" fill="#00b3ff"/><circle cx="894.42" cy="777.45" r="3.4" fill="#00b3ff"/><circle cx="901.09" cy="777.45" r="3.4" fill="#004dff"/><circle cx="907.75" cy="777.45" r="3.4" fill="#0080ff"/><circle cx="914.42" cy="777.45" r="3.4" fill="#004dff"/><circle cx="921.08" cy="777.45" r="3.4" fill="#00b3ff"/><circle cx="927.75" cy="777.45" r="3.4" fill="#00b3ff"/><circle cx="934.41" cy="777.45" r="3.4" fill="#004dff"/><circle cx="941.08" cy="777.45" r="3.4" fill="#0080ff"/><circle cx="947.74" cy="777.45" r="3.4" fill="#0080ff"/><circle cx="954.41" cy="777.45" r="3.4" fill="#0000f3"/><circle cx="967.74" cy="777.45" r="3.4" fill="#004dff"/><circle cx="987.73" cy="777.45" r="3.4" fill="#004dff"/><circle cx="767.79" cy="770.55" r="3.4" fill="#ff3900"/><circle cx="774.45" cy="770.55" r="3.4" fill="#f30900"/><circle cx="781.12" cy="770.55" r="3.4" fill="#ff9700"/><circle cx="787.78" cy="770.55" r="3.4" fill="#ff9700"/><circle cx="794.45" cy="770.55" r="3.4" fill="#ffc600"/><circle cx="801.12" cy="770.55" r="3.4" fill="#ffc600"/><circle cx="807.78" cy="770.55" r="3.4" fill="#f7f600"/><circle cx="814.44" cy="770.55" r="3.4" fill="#a5ff52"/><circle cx="821.11" cy="770.55" r="3.4" fill="#a5ff52"/><circle cx="827.77" cy="770.55" r="3.4" fill="#7bff7b"/><circle cx="834.44" cy="770.55" r="3.4" fill="#7bff7b"/><circle cx="841.11" cy="770.55" r="3.4" fill="#52ffa5"/><circle cx="847.77" cy="770.55" r="3.4" fill="#52ffa5"/><circle cx="854.43" cy="770.55" r="3.4" fill="#29ffce"/><circle cx="861.10" cy="770.55" r="3.4" fill="#00e6f7"/><circle cx="867.76" cy="770.55" r="3.4" fill="#00e6f7"/><circle cx="874.43" cy="770.55" r="3.4" fill="#00e6f7"/><circle cx="881.09" cy="770.55" r="3.4" fill="#00e6f7"/><circle cx="887.76" cy="770.55" r="3.4" fill="#0080ff"/><circle cx="894.42" cy="770.55" r="3.4" fill="#0080ff"/><circle cx="901.09" cy="770.55" r="3.4" fill="#004dff"/><circle cx="907.75" cy="770.55" r="3.4" fill="#0080ff"/><circle cx="914.42" cy="770.55" r="3.4" fill="#004dff"/><circle cx="921.08" cy="770.55" r="3.4" fill="#001aff"/><circle cx="927.75" cy="770.55" r="3.4" fill="#001aff"/><circle cx="934.41" cy="770.55" r="3.4" fill="#004dff"/><circle cx="941.08" cy="770.55" r="3.4" fill="#004dff"/><circle cx="947.74" cy="770.55" r="3.4" fill="#001aff"/><circle cx="954.41" cy="770.55" r="3.4" fill="#001aff"/><circle cx="961.07" cy="770.55" r="3.4" fill="#0000f3"/><circle cx="761.12" cy="763.65" r="3.4" fill="#800000"/><circle cx="767.79" cy="763.65" r="3.4" fill="#ff3900"/><circle cx="774.45" cy="763.65" r="3.4" fill="#ff3900"/><circle cx="781.12" cy="763.65" r="3.4" fill="#ff9700"/><circle cx="787.78" cy="763.65" r="3.4" fill="#ff9700"/><circle cx="794.45" cy="763.65" r="3.4" fill="#ffc600"/><circle cx="801.12" cy="763.65" r="3.4" fill="#f7f600"/><circle cx="807.78" cy="763.65" r="3.4" fill="#ceff29"/><circle cx="814.44" cy="763.65" r="3.4" fill="#a5ff52"/><circle cx="821.11" cy="763.65" r="3.4" fill="#a5ff52"/><circle cx="827.77" cy="763.65" r="3.4" fill="#7bff7b"/><circle cx="834.44" cy="763.65" r="3.4" fill="#52ffa5"/><circle cx="841.11" cy="763.65" r="3.4" fill="#29ffce"/><circle cx="847.77" cy="763.65" r="3.4" fill="#29ffce"/><circle cx="854.43" cy="763.65" r="3.4" fill="#00e6f7"/><circle cx="861.10" cy="763.65" r="3.4" fill="#00b3ff"/><circle cx="867.76" cy="763.65" r="3.4" fill="#00b3ff"/><circle cx="874.43" cy="763.65" r="3.4" fill="#00b3ff"/><circle cx="881.09" cy="763.65" r="3.4" fill="#00b3ff"/><circle cx="887.76" cy="763.65" r="3.4" fill="#0080ff"/><circle cx="894.42" cy="763.65" r="3.4" fill="#0080ff"/><circle cx="901.09" cy="763.65" r="3.4" fill="#001aff"/><circle cx="907.75" cy="763.65" r="3.4" fill="#004dff"/><circle cx="914.42" cy="763.65" r="3.4" fill="#004dff"/><circle cx="921.08" cy="763.65" r="3.4" fill="#001aff"/><circle cx="927.75" cy="763.65" r="3.4" fill="#004dff"/><circle cx="934.41" cy="763.65" r="3.4" fill="#004dff"/><circle cx="941.08" cy="763.65" r="3.4" fill="#001aff"/><circle cx="947.74" cy="763.65" r="3.4" fill="#001aff"/><circle cx="954.41" cy="763.65" r="3.4" fill="#0000f3"/><circle cx="974.40" cy="763.65" r="3.4" fill="#0000b9"/><circle cx="1034.39" cy="763.65" r="3.4" fill="#0000f3"/><circle cx="774.45" cy="756.75" r="3.4" fill="#ff3900"/><circle cx="781.12" cy="756.75" r="3.4" fill="#ff6800"/><circle cx="787.78" cy="756.75" r="3.4" fill="#ffc600"/><circle cx="794.45" cy="756.75" r="3.4" fill="#f7f600"/><circle cx="801.12" cy="756.75" r="3.4" fill="#ceff29"/><circle cx="807.78" cy="756.75" r="3.4" fill="#a5ff52"/><circle cx="814.44" cy="756.75" r="3.4" fill="#7bff7b"/><circle cx="821.11" cy="756.75" r="3.4" fill="#52ffa5"/><circle cx="827.77" cy="756.75" r="3.4" fill="#29ffce"/><circle cx="834.44" cy="756.75" r="3.4" fill="#29ffce"/><circle cx="841.11" cy="756.75" r="3.4" fill="#00e6f7"/><circle cx="847.77" cy="756.75" r="3.4" fill="#00e6f7"/><circle cx="854.43" cy="756.75" r="3.4" fill="#00b3ff"/><circle cx="861.10" cy="756.75" r="3.4" fill="#00b3ff"/><circle cx="867.76" cy="756.75" r="3.4" fill="#0080ff"/><circle cx="874.43" cy="756.75" r="3.4" fill="#0080ff"/><circle cx="881.09" cy="756.75" r="3.4" fill="#0080ff"/><circle cx="887.76" cy="756.75" r="3.4" fill="#004dff"/><circle cx="894.42" cy="756.75" r="3.4" fill="#0080ff"/><circle cx="901.09" cy="756.75" r="3.4" fill="#004dff"/><circle cx="907.75" cy="756.75" r="3.4" fill="#004dff"/><circle cx="914.42" cy="756.75" r="3.4" fill="#004dff"/><circle cx="921.08" cy="756.75" r="3.4" fill="#001aff"/><circle cx="927.75" cy="756.75" r="3.4" fill="#004dff"/><circle cx="934.41" cy="756.75" r="3.4" fill="#0000f3"/><circle cx="947.74" cy="756.75" r="3.4" fill="#0000f3"/><circle cx="954.41" cy="756.75" r="3.4" fill="#001aff"/><circle cx="961.07" cy="756.75" r="3.4" fill="#0000f3"/><circle cx="967.74" cy="756.75" r="3.4" fill="#001aff"/><circle cx="994.40" cy="756.75" r="3.4" fill="#0000f3"/><circle cx="1014.39" cy="756.75" r="3.4" fill="#0000f3"/><circle cx="781.12" cy="749.85" r="3.4" fill="#ff6800"/><circle cx="787.78" cy="749.85" r="3.4" fill="#ff9700"/><circle cx="794.45" cy="749.85" r="3.4" fill="#f7f600"/><circle cx="801.12" cy="749.85" r="3.4" fill="#ceff29"/><circle cx="807.78" cy="749.85" r="3.4" fill="#a5ff52"/><circle cx="814.44" cy="749.85" r="3.4" fill="#7bff7b"/><circle cx="821.11" cy="749.85" r="3.4" fill="#52ffa5"/><circle cx="827.77" cy="749.85" r="3.4" fill="#00e6f7"/><circle cx="834.44" cy="749.85" r="3.4" fill="#00e6f7"/><circle cx="841.11" cy="749.85" r="3.4" fill="#00b3ff"/><circle cx="847.77" cy="749.85" r="3.4" fill="#0080ff"/><circle cx="854.43" cy="749.85" r="3.4" fill="#00b3ff"/><circle cx="861.10" cy="749.85" r="3.4" fill="#00b3ff"/><circle cx="867.76" cy="749.85" r="3.4" fill="#0080ff"/><circle cx="874.43" cy="749.85" r="3.4" fill="#0080ff"/><circle cx="881.09" cy="749.85" r="3.4" fill="#004dff"/><circle cx="887.76" cy="749.85" r="3.4" fill="#0080ff"/><circle cx="894.42" cy="749.85" r="3.4" fill="#001aff"/><circle cx="901.09" cy="749.85" r="3.4" fill="#001aff"/><circle cx="907.75" cy="749.85" r="3.4" fill="#004dff"/><circle cx="914.42" cy="749.85" r="3.4" fill="#004dff"/><circle cx="921.08" cy="749.85" r="3.4" fill="#004dff"/><circle cx="927.75" cy="749.85" r="3.4" fill="#001aff"/><circle cx="934.41" cy="749.85" r="3.4" fill="#001aff"/><circle cx="947.74" cy="749.85" r="3.4" fill="#001aff"/><circle cx="954.41" cy="749.85" r="3.4" fill="#004dff"/><circle cx="967.74" cy="749.85" r="3.4" fill="#0000f3"/><circle cx="974.40" cy="749.85" r="3.4" fill="#0000f3"/><circle cx="774.45" cy="742.95" r="3.4" fill="#f30900"/><circle cx="787.78" cy="742.95" r="3.4" fill="#ff9700"/><circle cx="794.45" cy="742.95" r="3.4" fill="#ceff29"/><circle cx="801.12" cy="742.95" r="3.4" fill="#a5ff52"/><circle cx="807.78" cy="742.95" r="3.4" fill="#a5ff52"/><circle cx="814.44" cy="742.95" r="3.4" fill="#52ffa5"/><circle cx="821.11" cy="742.95" r="3.4" fill="#00e6f7"/><circle cx="827.77" cy="742.95" r="3.4" fill="#00b3ff"/><circle cx="834.44" cy="742.95" r="3.4" fill="#00b3ff"/><circle cx="841.11" cy="742.95" r="3.4" fill="#0080ff"/><circle cx="847.77" cy="742.95" r="3.4" fill="#0080ff"/><circle cx="854.43" cy="742.95" r="3.4" fill="#0080ff"/><circle cx="861.10" cy="742.95" r="3.4" fill="#0080ff"/><circle cx="867.76" cy="742.95" r="3.4" fill="#0080ff"/><circle cx="874.43" cy="742.95" r="3.4" fill="#0000f3"/><circle cx="881.09" cy="742.95" r="3.4" fill="#004dff"/><circle cx="887.76" cy="742.95" r="3.4" fill="#001aff"/><circle cx="894.42" cy="742.95" r="3.4" fill="#001aff"/><circle cx="901.09" cy="742.95" r="3.4" fill="#004dff"/><circle cx="907.75" cy="742.95" r="3.4" fill="#0080ff"/><circle cx="914.42" cy="742.95" r="3.4" fill="#001aff"/><circle cx="921.08" cy="742.95" r="3.4" fill="#0000f3"/><circle cx="927.75" cy="742.95" r="3.4" fill="#004dff"/><circle cx="934.41" cy="742.95" r="3.4" fill="#0000f3"/><circle cx="947.74" cy="742.95" r="3.4" fill="#0000b9"/><circle cx="954.41" cy="742.95" r="3.4" fill="#0000f3"/><circle cx="974.40" cy="742.95" r="3.4" fill="#0000f3"/><circle cx="781.12" cy="736.05" r="3.4" fill="#ff6800"/><circle cx="787.78" cy="736.05" r="3.4" fill="#ffc600"/><circle cx="794.45" cy="736.05" r="3.4" fill="#ffc600"/><circle cx="801.12" cy="736.05" r="3.4" fill="#a5ff52"/><circle cx="807.78" cy="736.05" r="3.4" fill="#7bff7b"/><circle cx="814.44" cy="736.05" r="3.4" fill="#52ffa5"/><circle cx="821.11" cy="736.05" r="3.4" fill="#00e6f7"/><circle cx="827.77" cy="736.05" r="3.4" fill="#0080ff"/><circle cx="834.44" cy="736.05" r="3.4" fill="#0080ff"/><circle cx="841.11" cy="736.05" r="3.4" fill="#0080ff"/><circle cx="847.77" cy="736.05" r="3.4" fill="#0080ff"/><circle cx="854.43" cy="736.05" r="3.4" fill="#0080ff"/><circle cx="861.10" cy="736.05" r="3.4" fill="#0080ff"/><circle cx="867.76" cy="736.05" r="3.4" fill="#0080ff"/><circle cx="874.43" cy="736.05" r="3.4" fill="#004dff"/><circle cx="881.09" cy="736.05" r="3.4" fill="#004dff"/><circle cx="887.76" cy="736.05" r="3.4" fill="#0080ff"/><circle cx="894.42" cy="736.05" r="3.4" fill="#001aff"/><circle cx="901.09" cy="736.05" r="3.4" fill="#0000f3"/><circle cx="907.75" cy="736.05" r="3.4" fill="#001aff"/><circle cx="921.08" cy="736.05" r="3.4" fill="#0000f3"/><circle cx="927.75" cy="736.05" r="3.4" fill="#0000f3"/><circle cx="934.41" cy="736.05" r="3.4" fill="#0080ff"/><circle cx="947.74" cy="736.05" r="3.4" fill="#0000b9"/><circle cx="774.45" cy="729.15" r="3.4" fill="#ff3900"/><circle cx="781.12" cy="729.15" r="3.4" fill="#ff6800"/><circle cx="787.78" cy="729.15" r="3.4" fill="#ceff29"/><circle cx="794.45" cy="729.15" r="3.4" fill="#ceff29"/><circle cx="801.12" cy="729.15" r="3.4" fill="#a5ff52"/><circle cx="807.78" cy="729.15" r="3.4" fill="#00e6f7"/><circle cx="814.44" cy="729.15" r="3.4" fill="#29ffce"/><circle cx="821.11" cy="729.15" r="3.4" fill="#00b3ff"/><circle cx="827.77" cy="729.15" r="3.4" fill="#00b3ff"/><circle cx="834.44" cy="729.15" r="3.4" fill="#004dff"/><circle cx="841.11" cy="729.15" r="3.4" fill="#0080ff"/><circle cx="847.77" cy="729.15" r="3.4" fill="#0080ff"/><circle cx="854.43" cy="729.15" r="3.4" fill="#004dff"/><circle cx="861.10" cy="729.15" r="3.4" fill="#001aff"/><circle cx="867.76" cy="729.15" r="3.4" fill="#0080ff"/><circle cx="874.43" cy="729.15" r="3.4" fill="#00b3ff"/><circle cx="881.09" cy="729.15" r="3.4" fill="#001aff"/><circle cx="887.76" cy="729.15" r="3.4" fill="#0000f3"/><circle cx="894.42" cy="729.15" r="3.4" fill="#001aff"/><circle cx="901.09" cy="729.15" r="3.4" fill="#0000f3"/><circle cx="907.75" cy="729.15" r="3.4" fill="#001aff"/><circle cx="927.75" cy="729.15" r="3.4" fill="#0000f3"/><circle cx="934.41" cy="729.15" r="3.4" fill="#0000f3"/><circle cx="787.78" cy="722.25" r="3.4" fill="#ffc600"/><circle cx="794.45" cy="722.25" r="3.4" fill="#f7f600"/><circle cx="801.12" cy="722.25" r="3.4" fill="#00e6f7"/><circle cx="807.78" cy="722.25" r="3.4" fill="#29ffce"/><circle cx="814.44" cy="722.25" r="3.4" fill="#00b3ff"/><circle cx="821.11" cy="722.25" r="3.4" fill="#00b3ff"/><circle cx="827.77" cy="722.25" r="3.4" fill="#0080ff"/><circle cx="834.44" cy="722.25" r="3.4" fill="#001aff"/><circle cx="841.11" cy="722.25" r="3.4" fill="#004dff"/><circle cx="847.77" cy="722.25" r="3.4" fill="#004dff"/><circle cx="854.43" cy="722.25" r="3.4" fill="#001aff"/><circle cx="861.10" cy="722.25" r="3.4" fill="#001aff"/><circle cx="867.76" cy="722.25" r="3.4" fill="#004dff"/><circle cx="874.43" cy="722.25" r="3.4" fill="#0000f3"/><circle cx="881.09" cy="722.25" r="3.4" fill="#0000f3"/><circle cx="887.76" cy="722.25" r="3.4" fill="#001aff"/><circle cx="894.42" cy="722.25" r="3.4" fill="#001aff"/><circle cx="907.75" cy="722.25" r="3.4" fill="#001aff"/><circle cx="927.75" cy="722.25" r="3.4" fill="#000080"/><circle cx="787.78" cy="715.35" r="3.4" fill="#ffc600"/><circle cx="794.45" cy="715.35" r="3.4" fill="#ffc600"/><circle cx="801.12" cy="715.35" r="3.4" fill="#a5ff52"/><circle cx="807.78" cy="715.35" r="3.4" fill="#52ffa5"/><circle cx="814.44" cy="715.35" r="3.4" fill="#29ffce"/><circle cx="821.11" cy="715.35" r="3.4" fill="#00e6f7"/><circle cx="827.77" cy="715.35" r="3.4" fill="#0080ff"/><circle cx="834.44" cy="715.35" r="3.4" fill="#0080ff"/><circle cx="841.11" cy="715.35" r="3.4" fill="#001aff"/><circle cx="847.77" cy="715.35" r="3.4" fill="#004dff"/><circle cx="854.43" cy="715.35" r="3.4" fill="#004dff"/><circle cx="861.10" cy="715.35" r="3.4" fill="#004dff"/><circle cx="867.76" cy="715.35" r="3.4" fill="#004dff"/><circle cx="874.43" cy="715.35" r="3.4" fill="#001aff"/><circle cx="881.09" cy="715.35" r="3.4" fill="#0080ff"/><circle cx="887.76" cy="715.35" r="3.4" fill="#00b3ff"/><circle cx="894.42" cy="715.35" r="3.4" fill="#001aff"/><circle cx="901.09" cy="715.35" r="3.4" fill="#00b3ff"/><circle cx="947.74" cy="715.35" r="3.4" fill="#0000f3"/><circle cx="961.07" cy="715.35" r="3.4" fill="#0000f3"/><circle cx="787.78" cy="708.45" r="3.4" fill="#ffc600"/><circle cx="794.45" cy="708.45" r="3.4" fill="#52ffa5"/><circle cx="801.12" cy="708.45" r="3.4" fill="#52ffa5"/><circle cx="807.78" cy="708.45" r="3.4" fill="#52ffa5"/><circle cx="814.44" cy="708.45" r="3.4" fill="#00e6f7"/><circle cx="821.11" cy="708.45" r="3.4" fill="#00e6f7"/><circle cx="827.77" cy="708.45" r="3.4" fill="#00b3ff"/><circle cx="834.44" cy="708.45" r="3.4" fill="#0080ff"/><circle cx="841.11" cy="708.45" r="3.4" fill="#001aff"/><circle cx="847.77" cy="708.45" r="3.4" fill="#0000f3"/><circle cx="854.43" cy="708.45" r="3.4" fill="#004dff"/><circle cx="861.10" cy="708.45" r="3.4" fill="#004dff"/><circle cx="867.76" cy="708.45" r="3.4" fill="#00e6f7"/><circle cx="874.43" cy="708.45" r="3.4" fill="#0080ff"/><circle cx="881.09" cy="708.45" r="3.4" fill="#0000f3"/><circle cx="887.76" cy="708.45" r="3.4" fill="#001aff"/><circle cx="894.42" cy="708.45" r="3.4" fill="#001aff"/><circle cx="907.75" cy="708.45" r="3.4" fill="#0000f3"/><circle cx="927.75" cy="708.45" r="3.4" fill="#0000f3"/><circle cx="941.08" cy="708.45" r="3.4" fill="#0000f3"/><circle cx="787.78" cy="701.55" r="3.4" fill="#ffc600"/><circle cx="794.45" cy="701.55" r="3.4" fill="#ceff29"/><circle cx="801.12" cy="701.55" r="3.4" fill="#ceff29"/><circle cx="807.78" cy="701.55" r="3.4" fill="#00e6f7"/><circle cx="814.44" cy="701.55" r="3.4" fill="#00b3ff"/><circle cx="821.11" cy="701.55" r="3.4" fill="#001aff"/><circle cx="827.77" cy="701.55" r="3.4" fill="#001aff"/><circle cx="834.44" cy="701.55" r="3.4" fill="#004dff"/><circle cx="841.11" cy="701.55" r="3.4" fill="#0080ff"/><circle cx="847.77" cy="701.55" r="3.4" fill="#004dff"/><circle cx="854.43" cy="701.55" r="3.4" fill="#001aff"/><circle cx="861.10" cy="701.55" r="3.4" fill="#0000f3"/><circle cx="867.76" cy="701.55" r="3.4" fill="#004dff"/><circle cx="874.43" cy="701.55" r="3.4" fill="#004dff"/><circle cx="881.09" cy="701.55" r="3.4" fill="#004dff"/><circle cx="907.75" cy="701.55" r="3.4" fill="#0000f3"/><circle cx="927.75" cy="701.55" r="3.4" fill="#004dff"/><circle cx="961.07" cy="701.55" r="3.4" fill="#0000b9"/><circle cx="794.45" cy="694.65" r="3.4" fill="#52ffa5"/><circle cx="801.12" cy="694.65" r="3.4" fill="#52ffa5"/><circle cx="807.78" cy="694.65" r="3.4" fill="#0080ff"/><circle cx="814.44" cy="694.65" r="3.4" fill="#29ffce"/><circle cx="821.11" cy="694.65" r="3.4" fill="#00e6f7"/><circle cx="827.77" cy="694.65" r="3.4" fill="#0080ff"/><circle cx="834.44" cy="694.65" r="3.4" fill="#004dff"/><circle cx="841.11" cy="694.65" r="3.4" fill="#0080ff"/><circle cx="847.77" cy="694.65" r="3.4" fill="#0080ff"/><circle cx="854.43" cy="694.65" r="3.4" fill="#0000f3"/><circle cx="861.10" cy="694.65" r="3.4" fill="#0000f3"/><circle cx="867.76" cy="694.65" r="3.4" fill="#00e6f7"/><circle cx="887.76" cy="694.65" r="3.4" fill="#0000f3"/><circle cx="894.42" cy="694.65" r="3.4" fill="#0000f3"/><circle cx="954.41" cy="694.65" r="3.4" fill="#0000f3"/><circle cx="794.45" cy="687.75" r="3.4" fill="#a5ff52"/><circle cx="801.12" cy="687.75" r="3.4" fill="#a5ff52"/><circle cx="807.78" cy="687.75" r="3.4" fill="#00e6f7"/><circle cx="814.44" cy="687.75" r="3.4" fill="#001aff"/><circle cx="821.11" cy="687.75" r="3.4" fill="#004dff"/><circle cx="827.77" cy="687.75" r="3.4" fill="#0080ff"/><circle cx="834.44" cy="687.75" r="3.4" fill="#001aff"/><circle cx="841.11" cy="687.75" r="3.4" fill="#00e6f7"/><circle cx="847.77" cy="687.75" r="3.4" fill="#001aff"/><circle cx="854.43" cy="687.75" r="3.4" fill="#0080ff"/><circle cx="861.10" cy="687.75" r="3.4" fill="#0000b9"/><circle cx="867.76" cy="687.75" r="3.4" fill="#0000b9"/><circle cx="874.43" cy="687.75" r="3.4" fill="#004dff"/><circle cx="881.09" cy="687.75" r="3.4" fill="#0000f3"/><circle cx="901.09" cy="687.75" r="3.4" fill="#0000f3"/><circle cx="934.41" cy="687.75" r="3.4" fill="#0000f3"/><circle cx="794.45" cy="680.85" r="3.4" fill="#52ffa5"/><circle cx="801.12" cy="680.85" r="3.4" fill="#ceff29"/><circle cx="807.78" cy="680.85" r="3.4" fill="#52ffa5"/><circle cx="814.44" cy="680.85" r="3.4" fill="#00b3ff"/><circle cx="821.11" cy="680.85" r="3.4" fill="#0080ff"/><circle cx="827.77" cy="680.85" r="3.4" fill="#0080ff"/><circle cx="834.44" cy="680.85" r="3.4" fill="#00b3ff"/><circle cx="841.11" cy="680.85" r="3.4" fill="#001aff"/><circle cx="847.77" cy="680.85" r="3.4" fill="#00e6f7"/><circle cx="861.10" cy="680.85" r="3.4" fill="#00b3ff"/><circle cx="867.76" cy="680.85" r="3.4" fill="#004dff"/><circle cx="874.43" cy="680.85" r="3.4" fill="#001aff"/><circle cx="881.09" cy="680.85" r="3.4" fill="#0080ff"/><circle cx="887.76" cy="680.85" r="3.4" fill="#001aff"/><circle cx="894.42" cy="680.85" r="3.4" fill="#001aff"/><circle cx="787.78" cy="673.95" r="3.4" fill="#f7f600"/><circle cx="794.45" cy="673.95" r="3.4" fill="#ceff29"/><circle cx="801.12" cy="673.95" r="3.4" fill="#00e6f7"/><circle cx="807.78" cy="673.95" r="3.4" fill="#52ffa5"/><circle cx="814.44" cy="673.95" r="3.4" fill="#00b3ff"/><circle cx="821.11" cy="673.95" r="3.4" fill="#00e6f7"/><circle cx="827.77" cy="673.95" r="3.4" fill="#00e6f7"/><circle cx="834.44" cy="673.95" r="3.4" fill="#004dff"/><circle cx="841.11" cy="673.95" r="3.4" fill="#001aff"/><circle cx="847.77" cy="673.95" r="3.4" fill="#0000b9"/><circle cx="854.43" cy="673.95" r="3.4" fill="#0080ff"/><circle cx="861.10" cy="673.95" r="3.4" fill="#0080ff"/><circle cx="867.76" cy="673.95" r="3.4" fill="#0000b9"/><circle cx="874.43" cy="673.95" r="3.4" fill="#0000f3"/><circle cx="881.09" cy="673.95" r="3.4" fill="#001aff"/><circle cx="787.78" cy="667.05" r="3.4" fill="#ffc600"/><circle cx="807.78" cy="667.05" r="3.4" fill="#0080ff"/><circle cx="814.44" cy="667.05" r="3.4" fill="#00e6f7"/><circle cx="821.11" cy="667.05" r="3.4" fill="#29ffce"/><circle cx="827.77" cy="667.05" r="3.4" fill="#004dff"/><circle cx="834.44" cy="667.05" r="3.4" fill="#00b3ff"/><circle cx="841.11" cy="667.05" r="3.4" fill="#001aff"/><circle cx="847.77" cy="667.05" r="3.4" fill="#00b3ff"/><circle cx="854.43" cy="667.05" r="3.4" fill="#004dff"/><circle cx="861.10" cy="667.05" r="3.4" fill="#0000f3"/><circle cx="867.76" cy="667.05" r="3.4" fill="#004dff"/><circle cx="887.76" cy="667.05" r="3.4" fill="#004dff"/><circle cx="801.12" cy="660.15" r="3.4" fill="#29ffce"/><circle cx="807.78" cy="660.15" r="3.4" fill="#00e6f7"/><circle cx="814.44" cy="660.15" r="3.4" fill="#52ffa5"/><circle cx="821.11" cy="660.15" r="3.4" fill="#004dff"/><circle cx="827.77" cy="660.15" r="3.4" fill="#0080ff"/><circle cx="834.44" cy="660.15" r="3.4" fill="#0080ff"/><circle cx="841.11" cy="660.15" r="3.4" fill="#0080ff"/><circle cx="847.77" cy="660.15" r="3.4" fill="#004dff"/><circle cx="854.43" cy="660.15" r="3.4" fill="#0000f3"/><circle cx="867.76" cy="660.15" r="3.4" fill="#00b3ff"/><circle cx="794.45" cy="653.25" r="3.4" fill="#52ffa5"/><circle cx="801.12" cy="653.25" r="3.4" fill="#00b3ff"/><circle cx="807.78" cy="653.25" r="3.4" fill="#0080ff"/><circle cx="814.44" cy="653.25" r="3.4" fill="#52ffa5"/><circle cx="821.11" cy="653.25" r="3.4" fill="#00b3ff"/><circle cx="827.77" cy="653.25" r="3.4" fill="#004dff"/><circle cx="841.11" cy="653.25" r="3.4" fill="#004dff"/><circle cx="847.77" cy="653.25" r="3.4" fill="#004dff"/><circle cx="861.10" cy="653.25" r="3.4" fill="#001aff"/><circle cx="867.76" cy="653.25" r="3.4" fill="#00b3ff"/><circle cx="801.12" cy="646.35" r="3.4" fill="#52ffa5"/><circle cx="807.78" cy="646.35" r="3.4" fill="#29ffce"/><circle cx="814.44" cy="646.35" r="3.4" fill="#29ffce"/><circle cx="821.11" cy="646.35" r="3.4" fill="#0080ff"/><circle cx="834.44" cy="646.35" r="3.4" fill="#004dff"/><circle cx="861.10" cy="646.35" r="3.4" fill="#00b3ff"/><circle cx="794.45" cy="639.45" r="3.4" fill="#29ffce"/><circle cx="814.44" cy="639.45" r="3.4" fill="#52ffa5"/><circle cx="821.11" cy="639.45" r="3.4" fill="#004dff"/><circle cx="834.44" cy="639.45" r="3.4" fill="#00e6f7"/><circle cx="801.12" cy="632.55" r="3.4" fill="#7bff7b"/><circle cx="807.78" cy="632.55" r="3.4" fill="#0080ff"/><circle cx="814.44" cy="632.55" r="3.4" fill="#0080ff"/><circle cx="827.77" cy="632.55" r="3.4" fill="#0080ff"/><circle cx="841.11" cy="632.55" r="3.4" fill="#00e6f7"/><circle cx="847.77" cy="632.55" r="3.4" fill="#0000f3"/><circle cx="814.44" cy="625.65" r="3.4" fill="#29ffce"/><circle cx="821.11" cy="625.65" r="3.4" fill="#0080ff"/><circle cx="834.44" cy="625.65" r="3.4" fill="#0080ff"/><circle cx="801.12" cy="618.75" r="3.4" fill="#52ffa5"/><circle cx="807.78" cy="618.75" r="3.4" fill="#00e6f7"/><circle cx="814.44" cy="618.75" r="3.4" fill="#00e6f7"/><circle cx="821.11" cy="618.75" r="3.4" fill="#001aff"/><circle cx="881.09" cy="618.75" r="3.4" fill="#0000b9"/><circle cx="801.12" cy="611.85" r="3.4" fill="#29ffce"/><circle cx="807.78" cy="611.85" r="3.4" fill="#00b3ff"/><circle cx="814.44" cy="611.85" r="3.4" fill="#0080ff"/><circle cx="821.11" cy="611.85" r="3.4" fill="#0080ff"/><circle cx="834.44" cy="611.85" r="3.4" fill="#0080ff"/><circle cx="841.11" cy="611.85" r="3.4" fill="#00b3ff"/><circle cx="814.44" cy="604.95" r="3.4" fill="#0080ff"/><circle cx="827.77" cy="604.95" r="3.4" fill="#00b3ff"/><circle cx="834.44" cy="604.95" r="3.4" fill="#0080ff"/><circle cx="841.11" cy="604.95" r="3.4" fill="#00b3ff"/><circle cx="807.78" cy="598.05" r="3.4" fill="#29ffce"/><circle cx="821.11" cy="598.05" r="3.4" fill="#004dff"/><circle cx="834.44" cy="598.05" r="3.4" fill="#004dff"/><circle cx="821.11" cy="591.15" r="3.4" fill="#00b3ff"/><circle cx="854.43" cy="591.15" r="3.4" fill="#0000f3"/><circle cx="827.77" cy="584.25" r="3.4" fill="#001aff"/><circle cx="821.11" cy="577.35" r="3.4" fill="#00e6f7"/><circle cx="821.11" cy="570.45" r="3.4" fill="#0000f3"/><circle cx="821.11" cy="563.55" r="3.4" fill="#0000f3"/><circle cx="814.44" cy="549.75" r="3.4" fill="#004dff"/><circle cx="801.12" cy="522.15" r="3.4" fill="#00b3ff"/><circle cx="807.78" cy="522.15" r="3.4" fill="#004dff"/><circle cx="827.77" cy="522.15" r="3.4" fill="#0000f3"/></g>
<rect x="720.80" y="453.40" width="346.90" height="357.80" fill="none" stroke="#000" stroke-width="1.56"/>
<line x1="727.50" y1="811.20" x2="727.50" y2="818.00" stroke="#000" stroke-width="1.56"/>
<text x="-0.750" y="0" transform="translate(722.57 840.20) scale(1.0128 1)" font-family="Liberation Sans, sans-serif" font-size="20.4">0</text>
<line x1="860.80" y1="811.20" x2="860.80" y2="818.00" stroke="#000" stroke-width="1.56"/>
<text x="-1.500" y="0" transform="translate(850.56 840.20) scale(1.0491 1)" font-family="Liberation Sans, sans-serif" font-size="20.4">10</text>
<line x1="994.10" y1="811.20" x2="994.10" y2="818.00" stroke="#000" stroke-width="1.56"/>
<text x="-1.000" y="0" transform="translate(983.11 840.20) scale(1.0599 1)" font-family="Liberation Sans, sans-serif" font-size="20.4">20</text>
<line x1="714.00" y1="805.00" x2="720.80" y2="805.00" stroke="#000" stroke-width="1.56"/>
<text x="-0.750" y="0" transform="translate(677.38 812.50) scale(1.0607 1)" font-family="Liberation Sans, sans-serif" font-size="20.4">0.0</text>
<line x1="714.00" y1="736.00" x2="720.80" y2="736.00" stroke="#000" stroke-width="1.56"/>
<text x="-0.750" y="0" transform="translate(677.38 743.50) scale(1.0472 1)" font-family="Liberation Sans, sans-serif" font-size="20.4">0.2</text>
<line x1="714.00" y1="667.00" x2="720.80" y2="667.00" stroke="#000" stroke-width="1.56"/>
<text x="-0.750" y="0" transform="translate(677.38 674.50) scale(1.0602 1)" font-family="Liberation Sans, sans-serif" font-size="20.4">0.4</text>
<line x1="714.00" y1="598.00" x2="720.80" y2="598.00" stroke="#000" stroke-width="1.56"/>
<text x="-0.750" y="0" transform="translate(677.38 605.50) scale(1.0657 1)" font-family="Liberation Sans, sans-serif" font-size="20.4">0.6</text>
<line x1="714.00" y1="529.00" x2="720.80" y2="529.00" stroke="#000" stroke-width="1.56"/>
<text x="-0.750" y="0" transform="translate(677.38 536.50) scale(1.0607 1)" font-family="Liberation Sans, sans-serif" font-size="20.4">0.8</text>
<line x1="714.00" y1="460.00" x2="720.80" y2="460.00" stroke="#000" stroke-width="1.56"/>
<text x="-1.500" y="0" transform="translate(678.25 467.50) scale(1.0577 1)" font-family="Liberation Sans, sans-serif" font-size="20.4">1.0</text>
<text x="-1.625" y="0" transform="translate(763.75 869.50) scale(1.0919 1)" font-family="Liberation Sans, sans-serif" font-size="20.4">LPD × Density, Å × g cm</text>
<text x="-0.750" y="0" transform="translate(1005.75 862.50) scale(1.2101 1)" font-family="Liberation Sans, sans-serif" font-size="14.3">−3</text>
<text x="-0.500" y="0" transform="translate(662.90 789.50) rotate(-90) scale(1.0901 1)" font-family="Liberation Sans, sans-serif" font-size="20.4">Thermal Conductivity, Wm</text>
<text x="-0.750" y="0" transform="translate(656.00 529.80) rotate(-90) scale(1.2034 1)" font-family="Liberation Sans, sans-serif" font-size="14.3">−1</text>
<text x="-1.625" y="0" transform="translate(662.90 508.20) rotate(-90) scale(0.9032 1)" font-family="Liberation Sans, sans-serif" font-size="20.4">K</text>
<text x="-0.750" y="0" transform="translate(656.00 495.90) rotate(-90) scale(1.1697 1)" font-family="Liberation Sans, sans-serif" font-size="14.3">−1</text>
<rect x="1089.80" y="453.40" width="17.90" height="357.60" fill="url(#jet)" stroke="#000" stroke-width="1.56"/>
<line x1="1107.70" y1="779.10" x2="1114.50" y2="779.10" stroke="#000" stroke-width="1.56"/>
<text x="-1.500" y="0" transform="translate(1123.42 786.50) scale(1.0727 1)" font-family="Liberation Sans, sans-serif" font-size="20.4">1000</text>
<line x1="1107.70" y1="733.20" x2="1114.50" y2="733.20" stroke="#000" stroke-width="1.56"/>
<text x="-1.000" y="0" transform="translate(1122.67 740.60) scale(1.0776 1)" font-family="Liberation Sans, sans-serif" font-size="20.4">2000</text>
<line x1="1107.70" y1="687.30" x2="1114.50" y2="687.30" stroke="#000" stroke-width="1.56"/>
<text x="-0.750" y="0" transform="translate(1122.80 694.70) scale(1.0686 1)" font-family="Liberation Sans, sans-serif" font-size="20.4">3000</text>
<line x1="1107.70" y1="641.40" x2="1114.50" y2="641.40" stroke="#000" stroke-width="1.56"/>
<text x="-0.500" y="0" transform="translate(1122.30 648.80) scale(1.0739 1)" font-family="Liberation Sans, sans-serif" font-size="20.4">4000</text>
<line x1="1107.70" y1="595.50" x2="1114.50" y2="595.50" stroke="#000" stroke-width="1.56"/>
<text x="-0.875" y="0" transform="translate(1122.80 602.90) scale(1.0716 1)" font-family="Liberation Sans, sans-serif" font-size="20.4">5000</text>
<line x1="1107.70" y1="549.60" x2="1114.50" y2="549.60" stroke="#000" stroke-width="1.56"/>
<text x="-1.000" y="0" transform="translate(1122.67 557.00) scale(1.0776 1)" font-family="Liberation Sans, sans-serif" font-size="20.4">6000</text>
<line x1="1107.70" y1="503.70" x2="1114.50" y2="503.70" stroke="#000" stroke-width="1.56"/>
<text x="-1.000" y="0" transform="translate(1122.92 511.10) scale(1.0718 1)" font-family="Liberation Sans, sans-serif" font-size="20.4">7000</text>
<line x1="1107.70" y1="457.80" x2="1114.50" y2="457.80" stroke="#000" stroke-width="1.56"/>
<text x="-0.875" y="0" transform="translate(1122.67 465.20) scale(1.0745 1)" font-family="Liberation Sans, sans-serif" font-size="20.4">8000</text>
<text x="-1.250" y="0" transform="translate(619.20 473.80) scale(1.0112 1)" font-family="Liberation Sans, sans-serif" font-size="31" font-weight="bold">d</text>
<text x="-1.625" y="0" transform="translate(549.00 215.50) rotate(-90) scale(0.9686 1)" font-family="Liberation Sans, sans-serif" font-size="20.4">LPD, Å</text>
<text x="-1.625" y="0" transform="translate(1177.00 257.40) rotate(-90) scale(1.0950 1)" font-family="Liberation Sans, sans-serif" font-size="20.4">Density, g cm</text>
<text x="-0.750" y="0" transform="translate(1169.80 124.00) rotate(-90) scale(1.2101 1)" font-family="Liberation Sans, sans-serif" font-size="14.3">−3</text>
<text x="-0.125" y="0" transform="translate(564.10 695.30) rotate(-90) scale(1.0414 1)" font-family="Liberation Sans, sans-serif" font-size="20.4">Void Fraction</text>
<text x="-1.000" y="0" transform="translate(1196.00 791.40) rotate(-90) scale(1.0801 1)" font-family="Liberation Sans, sans-serif" font-size="20.4">Gravimetric Surface Area, m</text>
<text x="-0.750" y="0" transform="translate(1188.80 514.40) rotate(-90) scale(1.0462 1)" font-family="Liberation Sans, sans-serif" font-size="14.3">2</text>
<text x="-0.875" y="0" transform="translate(1196.00 504.80) rotate(-90) scale(1.0082 1)" font-family="Liberation Sans, sans-serif" font-size="20.4">g</text>
<text x="-0.750" y="0" transform="translate(1188.80 492.80) rotate(-90) scale(1.1832 1)" font-family="Liberation Sans, sans-serif" font-size="14.3">−1</text>
</svg></body></html>
